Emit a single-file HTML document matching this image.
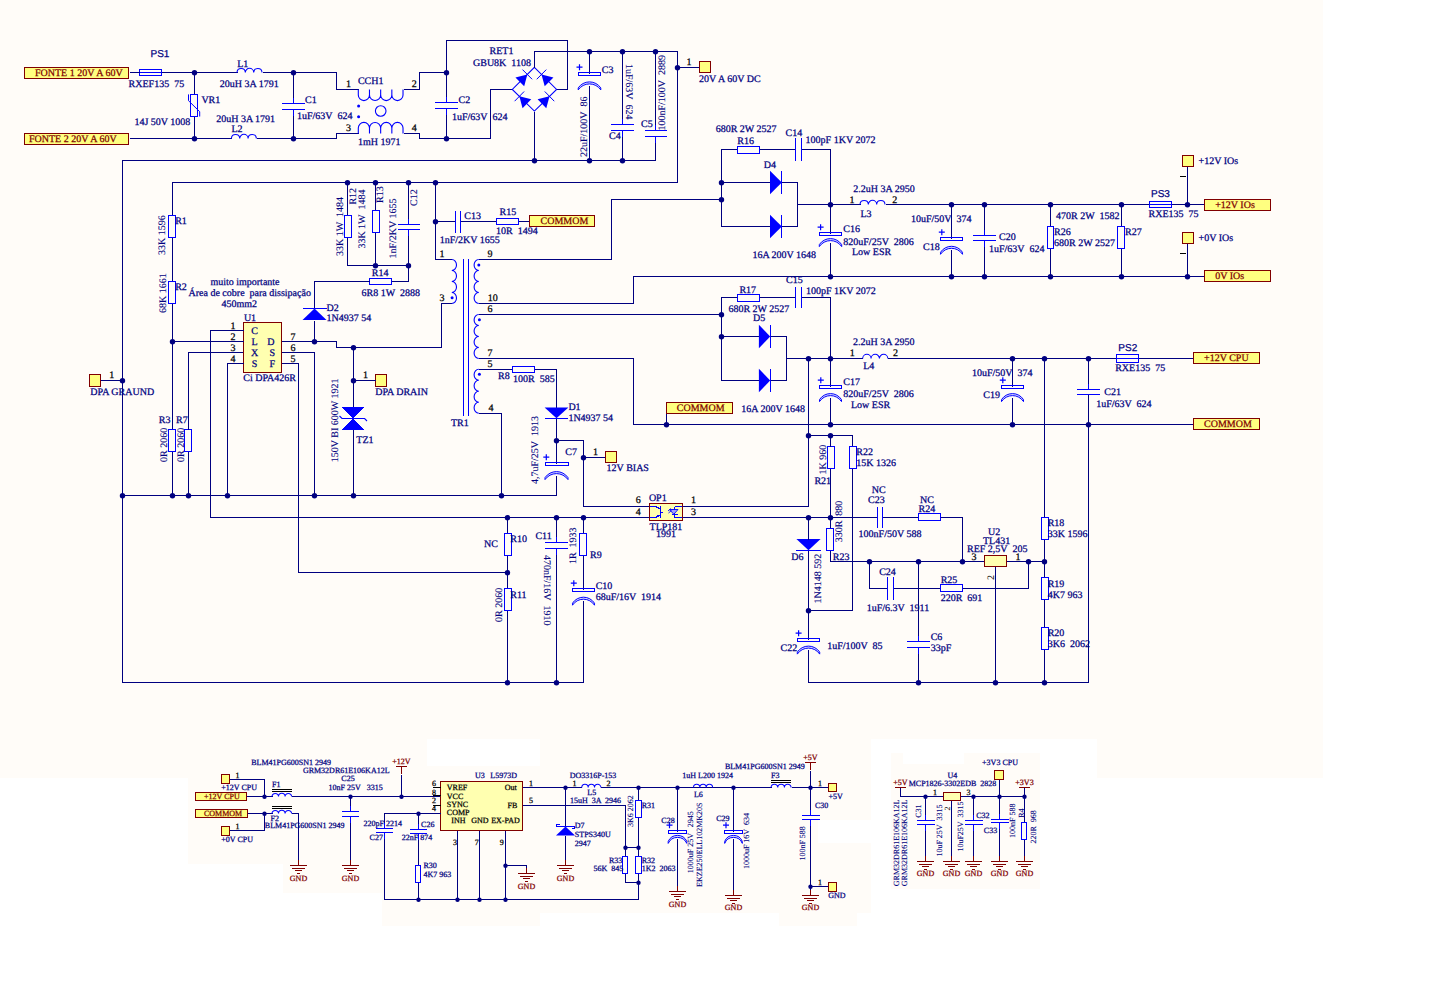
<!DOCTYPE html>
<html><head><meta charset="utf-8"><style>
html,body{margin:0;padding:0;background:#FFFFFF;}
body{width:1434px;height:1007px;overflow:hidden;}
svg{display:block;}
</style></head><body>
<svg width="1434" height="1007" viewBox="0 0 1434 1007" shape-rendering="crispEdges" text-rendering="geometricPrecision">
<rect x="0" y="0" width="1323" height="739" fill="#FFFCF8"/>
<rect x="1097" y="739" width="226" height="39" fill="#FFFCF8"/>
<rect x="0" y="739" width="188" height="39" fill="#FFFCF8"/>
<rect x="188" y="739" width="239" height="125" fill="#FFFCF8"/>
<rect x="427" y="766" width="444" height="147" fill="#FFFCF8"/>
<rect x="540" y="739" width="331" height="27" fill="#FFFCF8"/>
<rect x="283" y="864" width="99" height="29" fill="#FFFCF8"/>
<rect x="382" y="864" width="158" height="62" fill="#FFFCF8"/>
<rect x="891" y="753" width="149" height="136" fill="#FFFCF8"/>
<rect x="903" y="753" width="61" height="11" fill="#FFFFFF"/>
<rect x="427" y="742" width="113" height="24" fill="#FFFFFF"/>
<rect x="818" y="820" width="53" height="23" fill="#FFFFFF"/>
<rect x="779" y="913" width="78" height="13" fill="#FFFCF8"/>
<rect x="24.5" y="67.5" width="104" height="11" fill="#FFFF80" stroke="#800000" stroke-width="1"/>
<text x="35" y="76.35" font-size="10" fill="#800000" stroke="#800000" stroke-width="0.25" text-anchor="start" font-family='"Liberation Serif", serif' xml:space="preserve">FONTE 1 20V A 60V</text>
<rect x="24.5" y="133.5" width="104" height="11" fill="#FFFF80" stroke="#800000" stroke-width="1"/>
<text x="29" y="142.4" font-size="10" fill="#800000" stroke="#800000" stroke-width="0.25" text-anchor="start" font-family='"Liberation Serif", serif' xml:space="preserve">FONTE 2 20V A 60V</text>
<text x="150.5" y="57" font-size="10" fill="#000080" stroke="#000080" stroke-width="0.25" text-anchor="start" font-family='"Liberation Sans", sans-serif' xml:space="preserve">PS1</text>
<rect x="139.5" y="69.2" width="22" height="6.6" stroke="#0000FF" fill="none"/>
<line x1="139.5" y1="72.5" x2="161.5" y2="72.5" stroke="#0000FF"/>
<text x="128.6" y="86.7" font-size="10" fill="#000080" stroke="#000080" stroke-width="0.25" text-anchor="start" font-family='"Liberation Serif", serif' xml:space="preserve">RXEF135  75</text>
<polyline points="129.5,72.5 139.5,72.5" stroke="#000080" stroke-width="1" fill="none"/>
<polyline points="161.5,72.5 237.5,72.5" stroke="#000080" stroke-width="1" fill="none"/>
<polyline points="262.5,72.5 336.5,72.5 336.5,89.5 358.5,89.5" stroke="#000080" stroke-width="1" fill="none"/>
<polyline points="129.5,138.5 231.5,138.5" stroke="#000080" stroke-width="1" fill="none"/>
<polyline points="256.5,138.5 336.5,138.5 336.5,133.5 358.5,133.5" stroke="#000080" stroke-width="1" fill="none"/>
<polyline points="194.5,72.5 194.5,94.5" stroke="#000080" stroke-width="1" fill="none"/>
<polyline points="194.5,116.5 194.5,138.5" stroke="#000080" stroke-width="1" fill="none"/>
<rect x="190.5" y="94.5" width="7" height="22" stroke="#0000FF" fill="none"/>
<path d="M188.5,94.4 V100.7 L199.7,111.7 V116.5" stroke="#0000FF" fill="none" shape-rendering="geometricPrecision"/>
<text x="201.4" y="102.7" font-size="10" fill="#000080" stroke="#000080" stroke-width="0.25" text-anchor="start" font-family='"Liberation Serif", serif' xml:space="preserve">VR1</text>
<text x="134.4" y="124.5" font-size="10" fill="#000080" stroke="#000080" stroke-width="0.25" text-anchor="start" font-family='"Liberation Serif", serif' xml:space="preserve">14J 50V 1008</text>
<circle cx="194.5" cy="72.7" r="2.7" fill="#000080" shape-rendering="geometricPrecision"/>
<circle cx="194.5" cy="138.7" r="2.7" fill="#000080" shape-rendering="geometricPrecision"/>
<path d="M237,72.5 A4.17,4.17 0 0 1 245.33,72.5 A4.17,4.17 0 0 1 253.67,72.5 A4.17,4.17 0 0 1 262,72.5" stroke="#0000FF" stroke-width="1.05" fill="none" shape-rendering="geometricPrecision"/>
<text x="237.2" y="66.7" font-size="10" fill="#000080" stroke="#000080" stroke-width="0.25" text-anchor="start" font-family='"Liberation Serif", serif' xml:space="preserve">L1</text>
<text x="219.8" y="86.6" font-size="10" fill="#000080" stroke="#000080" stroke-width="0.25" text-anchor="start" font-family='"Liberation Serif", serif' xml:space="preserve">20uH 3A 1791</text>
<path d="M231.4,138.5 A4.17,4.17 0 0 1 239.73,138.5 A4.17,4.17 0 0 1 248.07,138.5 A4.17,4.17 0 0 1 256.4,138.5" stroke="#0000FF" stroke-width="1.05" fill="none" shape-rendering="geometricPrecision"/>
<text x="231.4" y="132.4" font-size="10" fill="#000080" stroke="#000080" stroke-width="0.25" text-anchor="start" font-family='"Liberation Serif", serif' xml:space="preserve">L2</text>
<text x="216.2" y="121.7" font-size="10" fill="#000080" stroke="#000080" stroke-width="0.25" text-anchor="start" font-family='"Liberation Serif", serif' xml:space="preserve">20uH 3A 1791</text>
<polyline points="293.5,72.5 293.5,103.5" stroke="#000080" stroke-width="1" fill="none"/>
<polyline points="293.5,109.5 293.5,138.5" stroke="#000080" stroke-width="1" fill="none"/>
<line x1="282" y1="103.5" x2="305" y2="103.5" stroke="#0000FF" stroke-width="1.4"/>
<line x1="282" y1="109.5" x2="305" y2="109.5" stroke="#0000FF" stroke-width="1.4"/>
<line x1="293.5" y1="97.5" x2="293.5" y2="103.5" stroke="#0000FF"/>
<line x1="293.5" y1="109.5" x2="293.5" y2="115.5" stroke="#0000FF"/>
<text x="305" y="103" font-size="10" fill="#000080" stroke="#000080" stroke-width="0.25" text-anchor="start" font-family='"Liberation Serif", serif' xml:space="preserve">C1</text>
<text x="297" y="119.3" font-size="10" fill="#000080" stroke="#000080" stroke-width="0.25" text-anchor="start" font-family='"Liberation Serif", serif' xml:space="preserve">1uF/63V  624</text>
<circle cx="293.5" cy="72.7" r="2.7" fill="#000080" shape-rendering="geometricPrecision"/>
<circle cx="293.5" cy="138.7" r="2.7" fill="#000080" shape-rendering="geometricPrecision"/>
<path d="M358.30,89.5 V95 A5.59,5.59 0 0 0 369.48,95 V89.5 M369.48,89.5 V95 A5.59,5.59 0 0 0 380.66,95 V89.5 M380.66,89.5 V95 A5.59,5.59 0 0 0 391.84,95 V89.5 M391.84,89.5 V95 A5.59,5.59 0 0 0 403.02,95 V89.5 M358.30,133.5 V128 A5.59,5.59 0 0 1 369.48,128 V133.5 M369.48,133.5 V128 A5.59,5.59 0 0 1 380.66,128 V133.5 M380.66,133.5 V128 A5.59,5.59 0 0 1 391.84,128 V133.5 M391.84,133.5 V128 A5.59,5.59 0 0 1 403.02,128 V133.5 " stroke="#0000FF" stroke-width="1.1" fill="none" shape-rendering="geometricPrecision"/>
<circle cx="358.6" cy="106" r="1.5" fill="#0000FF" shape-rendering="geometricPrecision"/>
<circle cx="358.6" cy="116.7" r="1.5" fill="#0000FF" shape-rendering="geometricPrecision"/>
<circle cx="380.7" cy="111" r="5.3" stroke="#0000FF" stroke-width="1.1" fill="none" shape-rendering="geometricPrecision"/>
<text x="357.9" y="83.7" font-size="10" fill="#000080" stroke="#000080" stroke-width="0.25" text-anchor="start" font-family='"Liberation Serif", serif' xml:space="preserve">CCH1</text>
<text x="348.5" y="86.6" font-size="10" fill="#000000" stroke="#000000" stroke-width="0.25" text-anchor="middle" font-family='"Liberation Serif", serif' xml:space="preserve">1</text>
<text x="414.2" y="86.6" font-size="10" fill="#000000" stroke="#000000" stroke-width="0.25" text-anchor="middle" font-family='"Liberation Serif", serif' xml:space="preserve">2</text>
<text x="348.5" y="130.6" font-size="10" fill="#000000" stroke="#000000" stroke-width="0.25" text-anchor="middle" font-family='"Liberation Serif", serif' xml:space="preserve">3</text>
<text x="414.2" y="130.6" font-size="10" fill="#000000" stroke="#000000" stroke-width="0.25" text-anchor="middle" font-family='"Liberation Serif", serif' xml:space="preserve">4</text>
<text x="357.9" y="144.5" font-size="10" fill="#000080" stroke="#000080" stroke-width="0.25" text-anchor="start" font-family='"Liberation Serif", serif' xml:space="preserve">1mH 1971</text>
<polyline points="403.5,89.5 419.5,89.5 419.5,72.5 446.5,72.5" stroke="#000080" stroke-width="1" fill="none"/>
<polyline points="403.5,133.5 419.5,133.5 419.5,138.5 446.5,138.5" stroke="#000080" stroke-width="1" fill="none"/>
<polyline points="446.5,72.5 446.5,102.5" stroke="#000080" stroke-width="1" fill="none"/>
<polyline points="446.5,108.5 446.5,138.5" stroke="#000080" stroke-width="1" fill="none"/>
<line x1="435" y1="102.5" x2="458" y2="102.5" stroke="#0000FF" stroke-width="1.4"/>
<line x1="435" y1="108.5" x2="458" y2="108.5" stroke="#0000FF" stroke-width="1.4"/>
<line x1="446.5" y1="96.5" x2="446.5" y2="102.5" stroke="#0000FF"/>
<line x1="446.5" y1="108.5" x2="446.5" y2="114.5" stroke="#0000FF"/>
<text x="458.6" y="103" font-size="10" fill="#000080" stroke="#000080" stroke-width="0.25" text-anchor="start" font-family='"Liberation Serif", serif' xml:space="preserve">C2</text>
<text x="452" y="120" font-size="10" fill="#000080" stroke="#000080" stroke-width="0.25" text-anchor="start" font-family='"Liberation Serif", serif' xml:space="preserve">1uF/63V  624</text>
<circle cx="446.5" cy="72.7" r="2.7" fill="#000080" shape-rendering="geometricPrecision"/>
<circle cx="446.5" cy="138.7" r="2.7" fill="#000080" shape-rendering="geometricPrecision"/>
<polyline points="446.5,72.5 446.5,40.5 567.5,40.5 567.5,89.5 556.5,89.5" stroke="#000080" stroke-width="1" fill="none"/>
<polyline points="512.5,89.5 490.5,89.5 490.5,138.5 446.5,138.5" stroke="#000080" stroke-width="1" fill="none"/>
<polygon points="534.4,67.4 556.6,89.4 534.4,111.1 512.3,89.4" stroke="#0000FF" stroke-width="1.1" fill="none" shape-rendering="geometricPrecision"/>
<polygon points="524.19,86.31 515.44,77.53 527.33,74.44" fill="#0000FF" shape-rendering="geometricPrecision"/>
<line x1="532.13" y1="79.26" x2="522.53" y2="69.62" stroke="#0000FF" shape-rendering="geometricPrecision"/>
<polygon points="553.42,77.52 544.69,86.32 541.50,74.44" fill="#0000FF" shape-rendering="geometricPrecision"/>
<line x1="546.29" y1="69.61" x2="536.72" y2="79.27" stroke="#0000FF" shape-rendering="geometricPrecision"/>
<polygon points="531.23,99.30 522.54,108.15 519.37,96.34" fill="#0000FF" shape-rendering="geometricPrecision"/>
<line x1="524.14" y1="91.49" x2="514.61" y2="101.20" stroke="#0000FF" shape-rendering="geometricPrecision"/>
<polygon points="546.28,108.16 537.61,99.29 549.50,96.34" fill="#0000FF" shape-rendering="geometricPrecision"/>
<line x1="554.25" y1="101.21" x2="544.74" y2="91.48" stroke="#0000FF" shape-rendering="geometricPrecision"/>
<text x="489.5" y="54" font-size="10" fill="#000080" stroke="#000080" stroke-width="0.25" text-anchor="start" font-family='"Liberation Serif", serif' xml:space="preserve">RET1</text>
<text x="473" y="66" font-size="10" fill="#000080" stroke="#000080" stroke-width="0.25" text-anchor="start" font-family='"Liberation Serif", serif' xml:space="preserve">GBU8K  1108</text>
<polyline points="534.5,67.5 534.5,51.5 677.5,51.5 677.5,182.5" stroke="#000080" stroke-width="1" fill="none"/>
<polyline points="534.5,111.5 534.5,160.5" stroke="#000080" stroke-width="1" fill="none"/>
<polyline points="122.5,682.5 122.5,160.5 655.5,160.5 655.5,136.5" stroke="#000080" stroke-width="1" fill="none"/>
<circle cx="534.5" cy="160.7" r="2.7" fill="#000080" shape-rendering="geometricPrecision"/>
<circle cx="589.5" cy="160.7" r="2.7" fill="#000080" shape-rendering="geometricPrecision"/>
<circle cx="622.5" cy="160.7" r="2.7" fill="#000080" shape-rendering="geometricPrecision"/>
<circle cx="589.5" cy="51.7" r="2.7" fill="#000080" shape-rendering="geometricPrecision"/>
<circle cx="622.5" cy="51.7" r="2.7" fill="#000080" shape-rendering="geometricPrecision"/>
<circle cx="655.5" cy="51.7" r="2.7" fill="#000080" shape-rendering="geometricPrecision"/>
<circle cx="677.5" cy="67.7" r="2.7" fill="#000080" shape-rendering="geometricPrecision"/>
<polyline points="589.5,51.5 589.5,73.5" stroke="#000080" stroke-width="1" fill="none"/>
<polyline points="589.5,85.5 589.5,160.5" stroke="#000080" stroke-width="1" fill="none"/>
<rect x="578.2" y="72.5" width="22.6" height="3" stroke="#0000FF" fill="none"/>
<path d="M578.2,87.9 A13.64,13.64 0 0 1 600.8,87.9 L600.8,89.9 A13.64,13.64 0 0 0 578.2,89.9 Z" stroke="#0000FF" stroke-width="1" fill="#D8D8FF" shape-rendering="geometricPrecision"/>
<path d="M576.5,67.2 h6 M579.5,64.2 v6" stroke="#0000FF" stroke-width="1.2" shape-rendering="geometricPrecision"/>
<text x="601.8" y="72.8" font-size="10" fill="#000080" stroke="#000080" stroke-width="0.25" text-anchor="start" font-family='"Liberation Serif", serif' xml:space="preserve">C3</text>
<text transform="translate(587,157) rotate(-90)" font-size="10" fill="#000080" stroke="#000080" stroke-width="0.1" font-family='"Liberation Serif", serif' xml:space="preserve">22uF/100V  86</text>
<polyline points="622.5,51.5 622.5,124.5" stroke="#000080" stroke-width="1" fill="none"/>
<polyline points="622.5,130.5 622.5,160.5" stroke="#000080" stroke-width="1" fill="none"/>
<line x1="611" y1="124.5" x2="634" y2="124.5" stroke="#0000FF" stroke-width="1.4"/>
<line x1="611" y1="130.5" x2="634" y2="130.5" stroke="#0000FF" stroke-width="1.4"/>
<line x1="622.5" y1="118.5" x2="622.5" y2="124.5" stroke="#0000FF"/>
<line x1="622.5" y1="130.5" x2="622.5" y2="136.5" stroke="#0000FF"/>
<text x="609" y="139.3" font-size="10" fill="#000080" stroke="#000080" stroke-width="0.25" text-anchor="start" font-family='"Liberation Serif", serif' xml:space="preserve">C4</text>
<text transform="translate(625.7,64) rotate(90)" font-size="10" fill="#000080" stroke="#000080" stroke-width="0.1" font-family='"Liberation Serif", serif' xml:space="preserve">1uF/63V  624</text>
<polyline points="655.5,51.5 655.5,130.5" stroke="#000080" stroke-width="1" fill="none"/>
<line x1="644.5" y1="130.5" x2="666.5" y2="130.5" stroke="#0000FF" stroke-width="1.4"/>
<line x1="644.5" y1="136.5" x2="666.5" y2="136.5" stroke="#0000FF" stroke-width="1.4"/>
<line x1="655.5" y1="124.5" x2="655.5" y2="130.5" stroke="#0000FF"/>
<line x1="655.5" y1="136.5" x2="655.5" y2="142.5" stroke="#0000FF"/>
<text x="641" y="127.3" font-size="10" fill="#000080" stroke="#000080" stroke-width="0.25" text-anchor="start" font-family='"Liberation Serif", serif' xml:space="preserve">C5</text>
<text transform="translate(665.3,130.5) rotate(-90)" font-size="10" fill="#000080" stroke="#000080" stroke-width="0.1" font-family='"Liberation Serif", serif' xml:space="preserve">100nF/100V  2889</text>
<polyline points="677.5,67.5 699.5,67.5" stroke="#000080" stroke-width="1" fill="none"/>
<rect x="699.5" y="61.5" width="11" height="11" fill="#FFFF80" stroke="#800000" stroke-width="1"/>
<text x="688.9" y="64.5" font-size="10" fill="#000000" stroke="#000000" stroke-width="0.25" text-anchor="middle" font-family='"Liberation Serif", serif' xml:space="preserve">1</text>
<text x="699" y="81.8" font-size="10" fill="#000080" stroke="#000080" stroke-width="0.25" text-anchor="start" font-family='"Liberation Serif", serif' xml:space="preserve">20V A 60V DC</text>
<polyline points="172.5,215.5 172.5,182.5 677.5,182.5" stroke="#000080" stroke-width="1" fill="none"/>
<circle cx="347.5" cy="182.7" r="2.7" fill="#000080" shape-rendering="geometricPrecision"/>
<circle cx="375.5" cy="182.7" r="2.7" fill="#000080" shape-rendering="geometricPrecision"/>
<circle cx="408.5" cy="182.7" r="2.7" fill="#000080" shape-rendering="geometricPrecision"/>
<circle cx="435.5" cy="182.7" r="2.7" fill="#000080" shape-rendering="geometricPrecision"/>
<polyline points="347.5,182.5 347.5,215.5" stroke="#000080" stroke-width="1" fill="none"/>
<polyline points="347.5,237.5 347.5,265.5 408.5,265.5" stroke="#000080" stroke-width="1" fill="none"/>
<rect x="344.5" y="215.5" width="7" height="22" stroke="#0000FF" fill="none"/>
<polyline points="375.5,182.5 375.5,210.5" stroke="#000080" stroke-width="1" fill="none"/>
<polyline points="375.5,232.5 375.5,265.5" stroke="#000080" stroke-width="1" fill="none"/>
<rect x="372.5" y="210.5" width="7" height="22" stroke="#0000FF" fill="none"/>
<polyline points="408.5,182.5 408.5,224.5" stroke="#000080" stroke-width="1" fill="none"/>
<polyline points="408.5,229.5 408.5,281.5 391.5,281.5" stroke="#000080" stroke-width="1" fill="none"/>
<line x1="397.5" y1="224.5" x2="419.5" y2="224.5" stroke="#0000FF" stroke-width="1.4"/>
<line x1="397.5" y1="229.5" x2="419.5" y2="229.5" stroke="#0000FF" stroke-width="1.4"/>
<line x1="408.5" y1="218.5" x2="408.5" y2="224.5" stroke="#0000FF"/>
<line x1="408.5" y1="229.5" x2="408.5" y2="235.5" stroke="#0000FF"/>
<circle cx="375.5" cy="265.7" r="2.7" fill="#000080" shape-rendering="geometricPrecision"/>
<circle cx="408.5" cy="265.7" r="2.7" fill="#000080" shape-rendering="geometricPrecision"/>
<text transform="translate(356.3,204.6) rotate(-90)" font-size="10" fill="#000080" stroke="#000080" stroke-width="0.1" font-family='"Liberation Serif", serif' xml:space="preserve">R12</text>
<text transform="translate(343.3,256) rotate(-90)" font-size="10" fill="#000080" stroke="#000080" stroke-width="0.1" font-family='"Liberation Serif", serif' xml:space="preserve">33K 1W  1484</text>
<text transform="translate(383.3,203) rotate(-90)" font-size="10" fill="#000080" stroke="#000080" stroke-width="0.1" font-family='"Liberation Serif", serif' xml:space="preserve">R13</text>
<text transform="translate(365.3,248.6) rotate(-90)" font-size="10" fill="#000080" stroke="#000080" stroke-width="0.1" font-family='"Liberation Serif", serif' xml:space="preserve">33K 1W  1484</text>
<text transform="translate(417.3,206) rotate(-90)" font-size="10" fill="#000080" stroke="#000080" stroke-width="0.1" font-family='"Liberation Serif", serif' xml:space="preserve">C12</text>
<text transform="translate(396.1,258.6) rotate(-90)" font-size="10" fill="#000080" stroke="#000080" stroke-width="0.1" font-family='"Liberation Serif", serif' xml:space="preserve">1nF/2KV 1655</text>
<rect x="369.5" y="278.5" width="22" height="6" stroke="#0000FF" fill="none"/>
<text x="371.8" y="276.1" font-size="10" fill="#000080" stroke="#000080" stroke-width="0.25" text-anchor="start" font-family='"Liberation Serif", serif' xml:space="preserve">R14</text>
<text x="361.5" y="295.7" font-size="10" fill="#000080" stroke="#000080" stroke-width="0.25" text-anchor="start" font-family='"Liberation Serif", serif' xml:space="preserve">6R8 1W  2888</text>
<polyline points="369.5,281.5 314.5,281.5 314.5,308.5" stroke="#000080" stroke-width="1" fill="none"/>
<polyline points="314.5,320.5 314.5,341.5" stroke="#000080" stroke-width="1" fill="none"/>
<polygon points="302.5,320.1 326.5,320.1 314.5,308.6" fill="#0000FF" shape-rendering="geometricPrecision"/>
<line x1="302.5" y1="308.5" x2="326.5" y2="308.5" stroke="#0000FF" stroke-width="1"/>
<text x="326.6" y="311" font-size="10" fill="#000080" stroke="#000080" stroke-width="0.25" text-anchor="start" font-family='"Liberation Serif", serif' xml:space="preserve">D2</text>
<text x="326.6" y="321.3" font-size="10" fill="#000080" stroke="#000080" stroke-width="0.25" text-anchor="start" font-family='"Liberation Serif", serif' xml:space="preserve">1N4937 54</text>
<polyline points="435.5,182.5 435.5,259.5 451.5,259.5" stroke="#000080" stroke-width="1" fill="none"/>
<circle cx="435.5" cy="221.7" r="2.7" fill="#000080" shape-rendering="geometricPrecision"/>
<polyline points="435.5,221.5 455.5,221.5" stroke="#000080" stroke-width="1" fill="none"/>
<polyline points="460.5,221.5 496.5,221.5" stroke="#000080" stroke-width="1" fill="none"/>
<polyline points="518.5,221.5 529.5,221.5" stroke="#000080" stroke-width="1" fill="none"/>
<line x1="455.5" y1="210.5" x2="455.5" y2="232.5" stroke="#0000FF" stroke-width="1.4"/>
<line x1="460.5" y1="210.5" x2="460.5" y2="232.5" stroke="#0000FF" stroke-width="1.4"/>
<rect x="496.5" y="218.5" width="22" height="6" stroke="#0000FF" fill="none"/>
<text x="464.3" y="218.7" font-size="10" fill="#000080" stroke="#000080" stroke-width="0.25" text-anchor="start" font-family='"Liberation Serif", serif' xml:space="preserve">C13</text>
<text x="439.7" y="243" font-size="10" fill="#000080" stroke="#000080" stroke-width="0.25" text-anchor="start" font-family='"Liberation Serif", serif' xml:space="preserve">1nF/2KV 1655</text>
<text x="499.5" y="215.3" font-size="10" fill="#000080" stroke="#000080" stroke-width="0.25" text-anchor="start" font-family='"Liberation Serif", serif' xml:space="preserve">R15</text>
<text x="496" y="233.8" font-size="10" fill="#000080" stroke="#000080" stroke-width="0.25" text-anchor="start" font-family='"Liberation Serif", serif' xml:space="preserve">10R  1494</text>
<rect x="529.5" y="215.5" width="65" height="11" fill="#FFFF80" stroke="#800000" stroke-width="1"/>
<text x="540.5" y="224.35" font-size="10" fill="#800000" stroke="#800000" stroke-width="0.25" text-anchor="start" font-family='"Liberation Serif", serif' xml:space="preserve">COMMOM</text>
<polyline points="611.5,259.5 611.5,199.5 721.5,199.5" stroke="#000080" stroke-width="1" fill="none"/>
<polyline points="478.5,259.5 611.5,259.5" stroke="#000080" stroke-width="1" fill="none"/>
<polyline points="737.5,149.5 721.5,149.5 721.5,226.5 770.5,226.5" stroke="#000080" stroke-width="1" fill="none"/>
<circle cx="721.5" cy="182.7" r="2.7" fill="#000080" shape-rendering="geometricPrecision"/>
<circle cx="721.5" cy="199.7" r="2.7" fill="#000080" shape-rendering="geometricPrecision"/>
<rect x="737.5" y="146.5" width="22" height="7" stroke="#0000FF" fill="none"/>
<text x="715.7" y="131.8" font-size="10" fill="#000080" stroke="#000080" stroke-width="0.25" text-anchor="start" font-family='"Liberation Serif", serif' xml:space="preserve">680R 2W 2527</text>
<text x="737.3" y="143.8" font-size="10" fill="#000080" stroke="#000080" stroke-width="0.25" text-anchor="start" font-family='"Liberation Serif", serif' xml:space="preserve">R16</text>
<polyline points="759.5,149.5 795.5,149.5" stroke="#000080" stroke-width="1" fill="none"/>
<line x1="795.5" y1="138.2" x2="795.5" y2="160.8" stroke="#0000FF" stroke-width="1.4"/>
<line x1="801.5" y1="138.2" x2="801.5" y2="160.8" stroke="#0000FF" stroke-width="1.4"/>
<polyline points="801.5,149.5 830.5,149.5 830.5,233.5" stroke="#000080" stroke-width="1" fill="none"/>
<text x="785.5" y="135.8" font-size="10" fill="#000080" stroke="#000080" stroke-width="0.25" text-anchor="start" font-family='"Liberation Serif", serif' xml:space="preserve">C14</text>
<text x="805.6" y="142.8" font-size="10" fill="#000080" stroke="#000080" stroke-width="0.25" text-anchor="start" font-family='"Liberation Serif", serif' xml:space="preserve">100pF 1KV 2072</text>
<polyline points="721.5,182.5 770.5,182.5" stroke="#000080" stroke-width="1" fill="none"/>
<polygon points="770,170.8 770,194.2 781.8,182.5" fill="#0000FF" shape-rendering="geometricPrecision"/>
<line x1="781.5" y1="170.8" x2="781.5" y2="194.2" stroke="#0000FF" stroke-width="1"/>
<polygon points="770,214.8 770,238.2 781.8,226.5" fill="#0000FF" shape-rendering="geometricPrecision"/>
<line x1="781.5" y1="214.8" x2="781.5" y2="238.2" stroke="#0000FF" stroke-width="1"/>
<polyline points="781.5,182.5 797.5,182.5 797.5,226.5 781.5,226.5" stroke="#000080" stroke-width="1" fill="none"/>
<text x="763.7" y="167.7" font-size="10" fill="#000080" stroke="#000080" stroke-width="0.25" text-anchor="start" font-family='"Liberation Serif", serif' xml:space="preserve">D4</text>
<text x="752.4" y="258" font-size="10" fill="#000080" stroke="#000080" stroke-width="0.25" text-anchor="start" font-family='"Liberation Serif", serif' xml:space="preserve">16A 200V 1648</text>
<polyline points="797.5,204.5 860.5,204.5" stroke="#000080" stroke-width="1" fill="none"/>
<path d="M860,204.5 A4.17,4.17 0 0 1 868.33,204.5 A4.17,4.17 0 0 1 876.67,204.5 A4.17,4.17 0 0 1 885,204.5" stroke="#0000FF" stroke-width="1.05" fill="none" shape-rendering="geometricPrecision"/>
<polyline points="885.5,204.5 1149.5,204.5" stroke="#000080" stroke-width="1" fill="none"/>
<polyline points="1171.5,204.5 1204.5,204.5" stroke="#000080" stroke-width="1" fill="none"/>
<text x="852" y="203" font-size="10" fill="#000000" stroke="#000000" stroke-width="0.25" text-anchor="middle" font-family='"Liberation Serif", serif' xml:space="preserve">1</text>
<text x="894.7" y="203" font-size="10" fill="#000000" stroke="#000000" stroke-width="0.25" text-anchor="middle" font-family='"Liberation Serif", serif' xml:space="preserve">2</text>
<text x="860.5" y="217" font-size="10" fill="#000080" stroke="#000080" stroke-width="0.25" text-anchor="start" font-family='"Liberation Serif", serif' xml:space="preserve">L3</text>
<text x="853.3" y="191.5" font-size="10" fill="#000080" stroke="#000080" stroke-width="0.25" text-anchor="start" font-family='"Liberation Serif", serif' xml:space="preserve">2.2uH 3A 2950</text>
<circle cx="830.5" cy="204.7" r="2.7" fill="#000080" shape-rendering="geometricPrecision"/>
<rect x="819.3" y="232.5" width="22.4" height="3" stroke="#0000FF" fill="none"/>
<path d="M819.3,244.6 A13.45,13.45 0 0 1 841.7,244.6 L841.7,246.6 A13.45,13.45 0 0 0 819.3,246.6 Z" stroke="#0000FF" stroke-width="1" fill="#D8D8FF" shape-rendering="geometricPrecision"/>
<path d="M817.6,227.2 h6 M820.6,224.2 v6" stroke="#0000FF" stroke-width="1.2" shape-rendering="geometricPrecision"/>
<polyline points="830.5,242.5 830.5,276.5" stroke="#000080" stroke-width="1" fill="none"/>
<text x="843.3" y="231.7" font-size="10" fill="#000080" stroke="#000080" stroke-width="0.25" text-anchor="start" font-family='"Liberation Serif", serif' xml:space="preserve">C16</text>
<text x="843.3" y="245.3" font-size="10" fill="#000080" stroke="#000080" stroke-width="0.25" text-anchor="start" font-family='"Liberation Serif", serif' xml:space="preserve">820uF/25V  2806</text>
<text x="852" y="255.3" font-size="10" fill="#000080" stroke="#000080" stroke-width="0.25" text-anchor="start" font-family='"Liberation Serif", serif' xml:space="preserve">Low ESR</text>
<polyline points="478.5,303.5 633.5,303.5 633.5,276.5 1204.5,276.5" stroke="#000080" stroke-width="1" fill="none"/>
<circle cx="830.5" cy="276.7" r="2.7" fill="#000080" shape-rendering="geometricPrecision"/>
<circle cx="951.5" cy="276.7" r="2.7" fill="#000080" shape-rendering="geometricPrecision"/>
<circle cx="984.5" cy="276.7" r="2.7" fill="#000080" shape-rendering="geometricPrecision"/>
<circle cx="1050.5" cy="276.7" r="2.7" fill="#000080" shape-rendering="geometricPrecision"/>
<circle cx="1121.5" cy="276.7" r="2.7" fill="#000080" shape-rendering="geometricPrecision"/>
<circle cx="1187.5" cy="276.7" r="2.7" fill="#000080" shape-rendering="geometricPrecision"/>
<circle cx="951.5" cy="204.7" r="2.7" fill="#000080" shape-rendering="geometricPrecision"/>
<circle cx="984.5" cy="204.7" r="2.7" fill="#000080" shape-rendering="geometricPrecision"/>
<circle cx="1050.5" cy="204.7" r="2.7" fill="#000080" shape-rendering="geometricPrecision"/>
<circle cx="1121.5" cy="204.7" r="2.7" fill="#000080" shape-rendering="geometricPrecision"/>
<circle cx="1187.5" cy="204.7" r="2.7" fill="#000080" shape-rendering="geometricPrecision"/>
<polyline points="951.5,204.5 951.5,238.5" stroke="#000080" stroke-width="1" fill="none"/>
<polyline points="951.5,249.5 951.5,276.5" stroke="#000080" stroke-width="1" fill="none"/>
<rect x="940.5" y="237.5" width="22" height="3" stroke="#0000FF" fill="none"/>
<path d="M940.5,252.3 A13.08,13.08 0 0 1 962.5,252.3 L962.5,254.3 A13.08,13.08 0 0 0 940.5,254.3 Z" stroke="#0000FF" stroke-width="1" fill="#D8D8FF" shape-rendering="geometricPrecision"/>
<path d="M938.8,232.2 h6 M941.8,229.2 v6" stroke="#0000FF" stroke-width="1.2" shape-rendering="geometricPrecision"/>
<text x="911" y="221.7" font-size="10" fill="#000080" stroke="#000080" stroke-width="0.25" text-anchor="start" font-family='"Liberation Serif", serif' xml:space="preserve">10uF/50V  374</text>
<text x="923" y="250.3" font-size="10" fill="#000080" stroke="#000080" stroke-width="0.25" text-anchor="start" font-family='"Liberation Serif", serif' xml:space="preserve">C18</text>
<polyline points="984.5,204.5 984.5,235.5" stroke="#000080" stroke-width="1" fill="none"/>
<polyline points="984.5,240.5 984.5,276.5" stroke="#000080" stroke-width="1" fill="none"/>
<line x1="973.2" y1="235.5" x2="995.8" y2="235.5" stroke="#0000FF" stroke-width="1.4"/>
<line x1="973.2" y1="240.5" x2="995.8" y2="240.5" stroke="#0000FF" stroke-width="1.4"/>
<line x1="984.5" y1="229.5" x2="984.5" y2="235.5" stroke="#0000FF"/>
<line x1="984.5" y1="240.5" x2="984.5" y2="246.5" stroke="#0000FF"/>
<text x="999" y="240.3" font-size="10" fill="#000080" stroke="#000080" stroke-width="0.25" text-anchor="start" font-family='"Liberation Serif", serif' xml:space="preserve">C20</text>
<text x="989" y="251.8" font-size="10" fill="#000080" stroke="#000080" stroke-width="0.25" text-anchor="start" font-family='"Liberation Serif", serif' xml:space="preserve">1uF/63V  624</text>
<polyline points="1050.5,204.5 1050.5,226.5" stroke="#000080" stroke-width="1" fill="none"/>
<polyline points="1050.5,248.5 1050.5,276.5" stroke="#000080" stroke-width="1" fill="none"/>
<rect x="1047.5" y="226.5" width="6" height="22" stroke="#0000FF" fill="none"/>
<text x="1056" y="219" font-size="10" fill="#000080" stroke="#000080" stroke-width="0.25" text-anchor="start" font-family='"Liberation Serif", serif' xml:space="preserve">470R 2W  1582</text>
<text x="1054" y="235.3" font-size="10" fill="#000080" stroke="#000080" stroke-width="0.25" text-anchor="start" font-family='"Liberation Serif", serif' xml:space="preserve">R26</text>
<text x="1054" y="246" font-size="10" fill="#000080" stroke="#000080" stroke-width="0.25" text-anchor="start" font-family='"Liberation Serif", serif' xml:space="preserve">680R 2W 2527</text>
<polyline points="1121.5,204.5 1121.5,226.5" stroke="#000080" stroke-width="1" fill="none"/>
<polyline points="1121.5,248.5 1121.5,276.5" stroke="#000080" stroke-width="1" fill="none"/>
<rect x="1117.5" y="226.5" width="7" height="22" stroke="#0000FF" fill="none"/>
<text x="1125" y="235.3" font-size="10" fill="#000080" stroke="#000080" stroke-width="0.25" text-anchor="start" font-family='"Liberation Serif", serif' xml:space="preserve">R27</text>
<rect x="1149.5" y="201.3" width="22" height="6.4" stroke="#0000FF" fill="none"/>
<line x1="1149.5" y1="204.5" x2="1171.5" y2="204.5" stroke="#0000FF"/>
<text x="1151" y="197.2" font-size="10" fill="#000080" stroke="#000080" stroke-width="0.25" text-anchor="start" font-family='"Liberation Sans", sans-serif' xml:space="preserve">PS3</text>
<text x="1148.5" y="216.8" font-size="10" fill="#000080" stroke="#000080" stroke-width="0.25" text-anchor="start" font-family='"Liberation Serif", serif' xml:space="preserve">RXE135  75</text>
<rect x="1182.5" y="155.5" width="11" height="11" fill="#FFFF80" stroke="#800000" stroke-width="1"/>
<text x="1198.6" y="163.8" font-size="10" fill="#000080" stroke="#000080" stroke-width="0.25" text-anchor="start" font-family='"Liberation Serif", serif' xml:space="preserve">+12V IOs</text>
<polyline points="1187.5,166.5 1187.5,204.5" stroke="#000080" stroke-width="1" fill="none"/>
<line x1="1180" y1="176.5" x2="1186" y2="176.5" stroke="#000" stroke-width="1"/>
<rect x="1182.5" y="232.5" width="11" height="11" fill="#FFFF80" stroke="#800000" stroke-width="1"/>
<text x="1198.6" y="241" font-size="10" fill="#000080" stroke="#000080" stroke-width="0.25" text-anchor="start" font-family='"Liberation Serif", serif' xml:space="preserve">+0V IOs</text>
<polyline points="1187.5,243.5 1187.5,276.5" stroke="#000080" stroke-width="1" fill="none"/>
<line x1="1180" y1="253.5" x2="1186" y2="253.5" stroke="#000" stroke-width="1"/>
<rect x="1204.5" y="199.5" width="66" height="11" fill="#FFFF80" stroke="#800000" stroke-width="1"/>
<text x="1215.2" y="208.05" font-size="10" fill="#800000" stroke="#800000" stroke-width="0.25" text-anchor="start" font-family='"Liberation Serif", serif' xml:space="preserve">+12V IOs</text>
<rect x="1204.5" y="270.5" width="66" height="11" fill="#FFFF80" stroke="#800000" stroke-width="1"/>
<text x="1215.2" y="279.4" font-size="10" fill="#800000" stroke="#800000" stroke-width="0.25" text-anchor="start" font-family='"Liberation Serif", serif' xml:space="preserve">0V IOs</text>
<rect x="168.5" y="215.5" width="7" height="22" stroke="#0000FF" fill="none"/>
<polyline points="172.5,237.5 172.5,281.5" stroke="#000080" stroke-width="1" fill="none"/>
<text x="175.2" y="224.3" font-size="10" fill="#000080" stroke="#000080" stroke-width="0.25" text-anchor="start" font-family='"Liberation Serif", serif' xml:space="preserve">R1</text>
<text transform="translate(165.3,255) rotate(-90)" font-size="10" fill="#000080" stroke="#000080" stroke-width="0.1" font-family='"Liberation Serif", serif' xml:space="preserve">33K 1596</text>
<rect x="168.5" y="281.5" width="7" height="22" stroke="#0000FF" fill="none"/>
<polyline points="172.5,303.5 172.5,429.5" stroke="#000080" stroke-width="1" fill="none"/>
<text x="175.2" y="289.8" font-size="10" fill="#000080" stroke="#000080" stroke-width="0.25" text-anchor="start" font-family='"Liberation Serif", serif' xml:space="preserve">R2</text>
<text transform="translate(165.9,313) rotate(-90)" font-size="10" fill="#000080" stroke="#000080" stroke-width="0.1" font-family='"Liberation Serif", serif' xml:space="preserve">68K 1661</text>
<circle cx="172.5" cy="341.7" r="2.7" fill="#000080" shape-rendering="geometricPrecision"/>
<rect x="168.5" y="429.5" width="7" height="22" stroke="#0000FF" fill="none"/>
<polyline points="172.5,451.5 172.5,495.5" stroke="#000080" stroke-width="1" fill="none"/>
<text x="158.8" y="423.3" font-size="10" fill="#000080" stroke="#000080" stroke-width="0.25" text-anchor="start" font-family='"Liberation Serif", serif' xml:space="preserve">R3</text>
<text transform="translate(167.3,462) rotate(-90)" font-size="10" fill="#000080" stroke="#000080" stroke-width="0.1" font-family='"Liberation Serif", serif' xml:space="preserve">0R 2060</text>
<rect x="184.5" y="429.5" width="7" height="22" stroke="#0000FF" fill="none"/>
<polyline points="243.5,352.5 188.5,352.5 188.5,429.5" stroke="#000080" stroke-width="1" fill="none"/>
<polyline points="188.5,451.5 188.5,495.5" stroke="#000080" stroke-width="1" fill="none"/>
<text x="176" y="423.3" font-size="10" fill="#000080" stroke="#000080" stroke-width="0.25" text-anchor="start" font-family='"Liberation Serif", serif' xml:space="preserve">R7</text>
<text transform="translate(183.5,462) rotate(-90)" font-size="10" fill="#000080" stroke="#000080" stroke-width="0.1" font-family='"Liberation Serif", serif' xml:space="preserve">0R 2060</text>
<text x="210.4" y="285.1" font-size="10" fill="#000080" stroke="#000080" stroke-width="0.25" text-anchor="start" font-family='"Liberation Serif", serif' xml:space="preserve">muito importante</text>
<text x="188.5" y="296.3" font-size="10" fill="#000080" stroke="#000080" stroke-width="0.25" text-anchor="start" font-family='"Liberation Serif", serif' xml:space="preserve">Área de cobre  para dissipação</text>
<text x="221.5" y="306.6" font-size="10" fill="#000080" stroke="#000080" stroke-width="0.25" text-anchor="start" font-family='"Liberation Serif", serif' xml:space="preserve">450mm2</text>
<rect x="243.5" y="322.5" width="38" height="50" fill="#FFFFB0" stroke="#800000" stroke-width="1.2"/>
<text x="243.9" y="320.9" font-size="10" fill="#000080" stroke="#000080" stroke-width="0.25" text-anchor="start" font-family='"Liberation Serif", serif' xml:space="preserve">U1</text>
<text x="243.3" y="381.1" font-size="10" fill="#000080" stroke="#000080" stroke-width="0.25" text-anchor="start" font-family='"Liberation Serif", serif' xml:space="preserve">Ci DPA426R</text>
<text x="254.6" y="334.2" font-size="10" fill="#000080" stroke="#000080" stroke-width="0.25" text-anchor="middle" font-family='"Liberation Serif", serif' xml:space="preserve">C</text>
<text x="254.6" y="345.3" font-size="10" fill="#000080" stroke="#000080" stroke-width="0.25" text-anchor="middle" font-family='"Liberation Serif", serif' xml:space="preserve">L</text>
<text x="254.6" y="356.1" font-size="10" fill="#000080" stroke="#000080" stroke-width="0.25" text-anchor="middle" font-family='"Liberation Serif", serif' xml:space="preserve">X</text>
<text x="254.6" y="367.2" font-size="10" fill="#000080" stroke="#000080" stroke-width="0.25" text-anchor="middle" font-family='"Liberation Serif", serif' xml:space="preserve">S</text>
<text x="270.9" y="345.3" font-size="10" fill="#000080" stroke="#000080" stroke-width="0.25" text-anchor="middle" font-family='"Liberation Serif", serif' xml:space="preserve">D</text>
<text x="272.2" y="356.1" font-size="10" fill="#000080" stroke="#000080" stroke-width="0.25" text-anchor="middle" font-family='"Liberation Serif", serif' xml:space="preserve">S</text>
<text x="272.2" y="367.2" font-size="10" fill="#000080" stroke="#000080" stroke-width="0.25" text-anchor="middle" font-family='"Liberation Serif", serif' xml:space="preserve">F</text>
<text x="232.9" y="329" font-size="10" fill="#000000" stroke="#000000" stroke-width="0.25" text-anchor="middle" font-family='"Liberation Serif", serif' xml:space="preserve">1</text>
<text x="232.9" y="340" font-size="10" fill="#000000" stroke="#000000" stroke-width="0.25" text-anchor="middle" font-family='"Liberation Serif", serif' xml:space="preserve">2</text>
<text x="232.9" y="351.2" font-size="10" fill="#000000" stroke="#000000" stroke-width="0.25" text-anchor="middle" font-family='"Liberation Serif", serif' xml:space="preserve">3</text>
<text x="232.9" y="361.7" font-size="10" fill="#000000" stroke="#000000" stroke-width="0.25" text-anchor="middle" font-family='"Liberation Serif", serif' xml:space="preserve">4</text>
<text x="292.9" y="340" font-size="10" fill="#000000" stroke="#000000" stroke-width="0.25" text-anchor="middle" font-family='"Liberation Serif", serif' xml:space="preserve">7</text>
<text x="292.9" y="351.2" font-size="10" fill="#000000" stroke="#000000" stroke-width="0.25" text-anchor="middle" font-family='"Liberation Serif", serif' xml:space="preserve">6</text>
<text x="292.9" y="361.7" font-size="10" fill="#000000" stroke="#000000" stroke-width="0.25" text-anchor="middle" font-family='"Liberation Serif", serif' xml:space="preserve">5</text>
<polyline points="172.5,341.5 243.5,341.5" stroke="#000080" stroke-width="1" fill="none"/>
<polyline points="243.5,330.5 210.5,330.5 210.5,517.5 649.5,517.5" stroke="#000080" stroke-width="1" fill="none"/>
<polyline points="243.5,363.5 227.5,363.5 227.5,495.5" stroke="#000080" stroke-width="1" fill="none"/>
<polyline points="281.5,341.5 336.5,341.5 336.5,347.5 441.5,347.5 441.5,303.5 451.5,303.5" stroke="#000080" stroke-width="1" fill="none"/>
<polyline points="281.5,352.5 314.5,352.5 314.5,495.5" stroke="#000080" stroke-width="1" fill="none"/>
<polyline points="281.5,363.5 298.5,363.5 298.5,572.5 507.5,572.5" stroke="#000080" stroke-width="1" fill="none"/>
<circle cx="314.5" cy="341.7" r="2.7" fill="#000080" shape-rendering="geometricPrecision"/>
<circle cx="353.5" cy="347.7" r="2.7" fill="#000080" shape-rendering="geometricPrecision"/>
<circle cx="353.5" cy="380.7" r="2.7" fill="#000080" shape-rendering="geometricPrecision"/>
<rect x="89.5" y="374.5" width="11" height="12" fill="#FFFF80" stroke="#800000" stroke-width="1"/>
<polyline points="100.5,380.5 122.5,380.5" stroke="#000080" stroke-width="1" fill="none"/>
<circle cx="122.5" cy="380.7" r="2.7" fill="#000080" shape-rendering="geometricPrecision"/>
<text x="111.8" y="377.5" font-size="10" fill="#000000" stroke="#000000" stroke-width="0.25" text-anchor="middle" font-family='"Liberation Serif", serif' xml:space="preserve">1</text>
<text x="90.3" y="394.9" font-size="10" fill="#000080" stroke="#000080" stroke-width="0.25" text-anchor="start" font-family='"Liberation Serif", serif' xml:space="preserve">DPA GRAUND</text>
<polyline points="353.5,347.5 353.5,407.5" stroke="#000080" stroke-width="1" fill="none"/>
<polyline points="353.5,429.5 353.5,495.5" stroke="#000080" stroke-width="1" fill="none"/>
<polygon points="342,407.4 364.6,407.4 353.4,418.5" fill="#0000FF"/>
<polygon points="342,429.8 364.6,429.8 353.4,418.5" fill="#0000FF"/>
<path d="M339.5,416 L342,418.5 H364.6 L367,421" stroke="#0000FF" stroke-width="1.1" fill="none" shape-rendering="geometricPrecision"/>
<text x="356.3" y="442.9" font-size="10" fill="#000080" stroke="#000080" stroke-width="0.25" text-anchor="start" font-family='"Liberation Serif", serif' xml:space="preserve">TZ1</text>
<text transform="translate(337.7,462.3) rotate(-90)" font-size="10" fill="#000080" stroke="#000080" stroke-width="0.1" font-family='"Liberation Serif", serif' xml:space="preserve">150V BI 600W 1921</text>
<rect x="375.5" y="374.5" width="11" height="12" fill="#FFFF80" stroke="#800000" stroke-width="1"/>
<polyline points="353.5,380.5 375.5,380.5" stroke="#000080" stroke-width="1" fill="none"/>
<text x="365.4" y="377.5" font-size="10" fill="#000000" stroke="#000000" stroke-width="0.25" text-anchor="middle" font-family='"Liberation Serif", serif' xml:space="preserve">1</text>
<text x="375.2" y="394.9" font-size="10" fill="#000080" stroke="#000080" stroke-width="0.25" text-anchor="start" font-family='"Liberation Serif", serif' xml:space="preserve">DPA DRAIN</text>
<polyline points="122.5,495.5 556.5,495.5 556.5,475.5" stroke="#000080" stroke-width="1" fill="none"/>
<circle cx="122.5" cy="495.7" r="2.7" fill="#000080" shape-rendering="geometricPrecision"/>
<circle cx="172.5" cy="495.7" r="2.7" fill="#000080" shape-rendering="geometricPrecision"/>
<circle cx="188.5" cy="495.7" r="2.7" fill="#000080" shape-rendering="geometricPrecision"/>
<circle cx="227.5" cy="495.7" r="2.7" fill="#000080" shape-rendering="geometricPrecision"/>
<circle cx="314.5" cy="495.7" r="2.7" fill="#000080" shape-rendering="geometricPrecision"/>
<circle cx="353.5" cy="495.7" r="2.7" fill="#000080" shape-rendering="geometricPrecision"/>
<circle cx="501.5" cy="495.7" r="2.7" fill="#000080" shape-rendering="geometricPrecision"/>
<path d="M451.8,259.50 A4.7,5.5 0 0 1 451.8,270.50 M451.8,270.50 A4.7,5.5 0 0 1 451.8,281.50 M451.8,281.50 A4.7,5.5 0 0 1 451.8,292.50 M451.8,292.50 A4.7,5.5 0 0 1 451.8,303.50 M478.8,259.50 A4.7,5.5 0 0 0 478.8,270.50 M478.8,270.50 A4.7,5.5 0 0 0 478.8,281.50 M478.8,281.50 A4.7,5.5 0 0 0 478.8,292.50 M478.8,292.50 A4.7,5.5 0 0 0 478.8,303.50 M478.8,314.50 A4.7,5.5 0 0 0 478.8,325.50 M478.8,325.50 A4.7,5.5 0 0 0 478.8,336.50 M478.8,336.50 A4.7,5.5 0 0 0 478.8,347.50 M478.8,347.50 A4.7,5.5 0 0 0 478.8,358.50 M478.8,369.30 A4.7,5.5 0 0 0 478.8,380.30 M478.8,380.30 A4.7,5.5 0 0 0 478.8,391.30 M478.8,391.30 A4.7,5.5 0 0 0 478.8,402.30 M478.8,402.30 A4.7,5.5 0 0 0 478.8,413.30 " stroke="#0000FF" stroke-width="1.1" fill="none" shape-rendering="geometricPrecision"/>
<line x1="463.5" y1="259" x2="463.5" y2="415.6" stroke="#0000FF" stroke-width="1.2"/>
<line x1="468.5" y1="259" x2="468.5" y2="415.6" stroke="#0000FF" stroke-width="1.2"/>
<circle cx="452.1" cy="297.8" r="1.5" fill="#0000FF" shape-rendering="geometricPrecision"/>
<circle cx="478.8" cy="265" r="1.5" fill="#0000FF" shape-rendering="geometricPrecision"/>
<circle cx="479.4" cy="319.7" r="1.5" fill="#0000FF" shape-rendering="geometricPrecision"/>
<circle cx="479.4" cy="374.3" r="1.5" fill="#0000FF" shape-rendering="geometricPrecision"/>
<text x="441.9" y="256.8" font-size="10" fill="#000000" stroke="#000000" stroke-width="0.25" text-anchor="middle" font-family='"Liberation Serif", serif' xml:space="preserve">1</text>
<text x="490" y="256.8" font-size="10" fill="#000000" stroke="#000000" stroke-width="0.25" text-anchor="middle" font-family='"Liberation Serif", serif' xml:space="preserve">9</text>
<text x="441.9" y="300.6" font-size="10" fill="#000000" stroke="#000000" stroke-width="0.25" text-anchor="middle" font-family='"Liberation Serif", serif' xml:space="preserve">3</text>
<text x="492.7" y="300.6" font-size="10" fill="#000000" stroke="#000000" stroke-width="0.25" text-anchor="middle" font-family='"Liberation Serif", serif' xml:space="preserve">10</text>
<text x="490" y="311.6" font-size="10" fill="#000000" stroke="#000000" stroke-width="0.25" text-anchor="middle" font-family='"Liberation Serif", serif' xml:space="preserve">6</text>
<text x="490" y="355.5" font-size="10" fill="#000000" stroke="#000000" stroke-width="0.25" text-anchor="middle" font-family='"Liberation Serif", serif' xml:space="preserve">7</text>
<text x="490" y="366.7" font-size="10" fill="#000000" stroke="#000000" stroke-width="0.25" text-anchor="middle" font-family='"Liberation Serif", serif' xml:space="preserve">5</text>
<text x="491" y="411.2" font-size="10" fill="#000000" stroke="#000000" stroke-width="0.25" text-anchor="middle" font-family='"Liberation Serif", serif' xml:space="preserve">4</text>
<text x="451" y="425.9" font-size="10" fill="#000080" stroke="#000080" stroke-width="0.25" text-anchor="start" font-family='"Liberation Serif", serif' xml:space="preserve">TR1</text>
<polyline points="478.5,314.5 721.5,314.5" stroke="#000080" stroke-width="1" fill="none"/>
<polyline points="478.5,358.5 633.5,358.5 633.5,424.5 1193.5,424.5" stroke="#000080" stroke-width="1" fill="none"/>
<polyline points="478.5,369.5 512.5,369.5" stroke="#000080" stroke-width="1" fill="none"/>
<rect x="512.5" y="366.5" width="22" height="6" stroke="#0000FF" fill="none"/>
<polyline points="534.5,369.5 556.5,369.5 556.5,407.5" stroke="#000080" stroke-width="1" fill="none"/>
<text x="498" y="378.9" font-size="10" fill="#000080" stroke="#000080" stroke-width="0.25" text-anchor="start" font-family='"Liberation Serif", serif' xml:space="preserve">R8</text>
<text x="513" y="382" font-size="10" fill="#000080" stroke="#000080" stroke-width="0.25" text-anchor="start" font-family='"Liberation Serif", serif' xml:space="preserve">100R  585</text>
<polyline points="478.5,413.5 501.5,413.5 501.5,495.5" stroke="#000080" stroke-width="1" fill="none"/>
<polygon points="544.6,407.4 568.4,407.4 556.5,418.2" fill="#0000FF" shape-rendering="geometricPrecision"/>
<line x1="544.6" y1="418.5" x2="568.4" y2="418.5" stroke="#0000FF" stroke-width="1"/>
<polyline points="556.5,418.5 556.5,463.5" stroke="#000080" stroke-width="1" fill="none"/>
<text x="568.4" y="409.9" font-size="10" fill="#000080" stroke="#000080" stroke-width="0.25" text-anchor="start" font-family='"Liberation Serif", serif' xml:space="preserve">D1</text>
<text x="568.4" y="421" font-size="10" fill="#000080" stroke="#000080" stroke-width="0.25" text-anchor="start" font-family='"Liberation Serif", serif' xml:space="preserve">1N4937 54</text>
<circle cx="556.5" cy="440.7" r="2.7" fill="#000080" shape-rendering="geometricPrecision"/>
<polyline points="556.5,440.5 583.5,440.5 583.5,506.5 649.5,506.5" stroke="#000080" stroke-width="1" fill="none"/>
<circle cx="583.5" cy="457.7" r="2.7" fill="#000080" shape-rendering="geometricPrecision"/>
<polyline points="583.5,457.5 605.5,457.5" stroke="#000080" stroke-width="1" fill="none"/>
<rect x="605.5" y="451.5" width="11" height="11" fill="#FFFF80" stroke="#800000" stroke-width="1"/>
<text x="595.5" y="455" font-size="10" fill="#000000" stroke="#000000" stroke-width="0.25" text-anchor="middle" font-family='"Liberation Serif", serif' xml:space="preserve">1</text>
<text x="606.6" y="471.1" font-size="10" fill="#000080" stroke="#000080" stroke-width="0.25" text-anchor="start" font-family='"Liberation Serif", serif' xml:space="preserve">12V BIAS</text>
<rect x="545" y="462.5" width="23" height="3" stroke="#0000FF" fill="none"/>
<path d="M545,477.6 A14.02,14.02 0 0 1 568,477.6 L568,479.6 A14.02,14.02 0 0 0 545,479.6 Z" stroke="#0000FF" stroke-width="1" fill="#D8D8FF" shape-rendering="geometricPrecision"/>
<path d="M543.3,457.2 h6 M546.3,454.2 v6" stroke="#0000FF" stroke-width="1.2" shape-rendering="geometricPrecision"/>
<text x="565.3" y="455.1" font-size="10" fill="#000080" stroke="#000080" stroke-width="0.25" text-anchor="start" font-family='"Liberation Serif", serif' xml:space="preserve">C7</text>
<text transform="translate(538.1,484) rotate(-90)" font-size="10" fill="#000080" stroke="#000080" stroke-width="0.1" font-family='"Liberation Serif", serif' xml:space="preserve">4,7uF/25V  1913</text>
<rect x="666.5" y="402.5" width="66" height="11" fill="#FFFF80" stroke="#800000" stroke-width="1"/>
<text x="676.8" y="411.25" font-size="10" fill="#800000" stroke="#800000" stroke-width="0.25" text-anchor="start" font-family='"Liberation Serif", serif' xml:space="preserve">COMMOM</text>
<polyline points="666.5,413.5 666.5,424.5" stroke="#000080" stroke-width="1" fill="none"/>
<circle cx="666.5" cy="424.7" r="2.7" fill="#000080" shape-rendering="geometricPrecision"/>
<polyline points="737.5,297.5 721.5,297.5 721.5,380.5 759.5,380.5" stroke="#000080" stroke-width="1" fill="none"/>
<circle cx="721.5" cy="314.7" r="2.7" fill="#000080" shape-rendering="geometricPrecision"/>
<circle cx="721.5" cy="336.7" r="2.7" fill="#000080" shape-rendering="geometricPrecision"/>
<rect x="737.5" y="294.5" width="22" height="7" stroke="#0000FF" fill="none"/>
<text x="739.4" y="292.8" font-size="10" fill="#000080" stroke="#000080" stroke-width="0.25" text-anchor="start" font-family='"Liberation Serif", serif' xml:space="preserve">R17</text>
<text x="728.4" y="311.6" font-size="10" fill="#000080" stroke="#000080" stroke-width="0.25" text-anchor="start" font-family='"Liberation Serif", serif' xml:space="preserve">680R 2W 2527</text>
<polyline points="759.5,297.5 795.5,297.5" stroke="#000080" stroke-width="1" fill="none"/>
<line x1="795.5" y1="286.7" x2="795.5" y2="308.3" stroke="#0000FF" stroke-width="1.4"/>
<line x1="801.5" y1="286.7" x2="801.5" y2="308.3" stroke="#0000FF" stroke-width="1.4"/>
<polyline points="801.5,297.5 830.5,297.5 830.5,386.5" stroke="#000080" stroke-width="1" fill="none"/>
<text x="786" y="283.3" font-size="10" fill="#000080" stroke="#000080" stroke-width="0.25" text-anchor="start" font-family='"Liberation Serif", serif' xml:space="preserve">C15</text>
<text x="806" y="293.8" font-size="10" fill="#000080" stroke="#000080" stroke-width="0.25" text-anchor="start" font-family='"Liberation Serif", serif' xml:space="preserve">100pF 1KV 2072</text>
<polyline points="721.5,336.5 759.5,336.5" stroke="#000080" stroke-width="1" fill="none"/>
<polygon points="758.9,324.8 758.9,348.2 770.2,336.5" fill="#0000FF" shape-rendering="geometricPrecision"/>
<line x1="770.5" y1="324.8" x2="770.5" y2="348.2" stroke="#0000FF" stroke-width="1"/>
<polygon points="758.9,368.8 758.9,392.2 770.2,380.5" fill="#0000FF" shape-rendering="geometricPrecision"/>
<line x1="770.5" y1="368.8" x2="770.5" y2="392.2" stroke="#0000FF" stroke-width="1"/>
<polyline points="770.5,336.5 786.5,336.5 786.5,380.5 770.5,380.5" stroke="#000080" stroke-width="1" fill="none"/>
<text x="753" y="321.3" font-size="10" fill="#000080" stroke="#000080" stroke-width="0.25" text-anchor="start" font-family='"Liberation Serif", serif' xml:space="preserve">D5</text>
<text x="741.3" y="411.8" font-size="10" fill="#000080" stroke="#000080" stroke-width="0.25" text-anchor="start" font-family='"Liberation Serif", serif' xml:space="preserve">16A 200V 1648</text>
<polyline points="786.5,358.5 862.5,358.5" stroke="#000080" stroke-width="1" fill="none"/>
<path d="M862.7,358.5 A4.18,4.18 0 0 1 871.07,358.5 A4.18,4.18 0 0 1 879.43,358.5 A4.18,4.18 0 0 1 887.8,358.5" stroke="#0000FF" stroke-width="1.05" fill="none" shape-rendering="geometricPrecision"/>
<polyline points="887.5,358.5 1116.5,358.5" stroke="#000080" stroke-width="1" fill="none"/>
<polyline points="1138.5,358.5 1193.5,358.5" stroke="#000080" stroke-width="1" fill="none"/>
<circle cx="808.5" cy="358.7" r="2.7" fill="#000080" shape-rendering="geometricPrecision"/>
<circle cx="830.5" cy="358.7" r="2.7" fill="#000080" shape-rendering="geometricPrecision"/>
<circle cx="1012.5" cy="358.7" r="2.7" fill="#000080" shape-rendering="geometricPrecision"/>
<circle cx="1044.5" cy="358.7" r="2.7" fill="#000080" shape-rendering="geometricPrecision"/>
<circle cx="1088.5" cy="358.7" r="2.7" fill="#000080" shape-rendering="geometricPrecision"/>
<text x="852.2" y="355.8" font-size="10" fill="#000000" stroke="#000000" stroke-width="0.25" text-anchor="middle" font-family='"Liberation Serif", serif' xml:space="preserve">1</text>
<text x="895.5" y="355.8" font-size="10" fill="#000000" stroke="#000000" stroke-width="0.25" text-anchor="middle" font-family='"Liberation Serif", serif' xml:space="preserve">2</text>
<text x="863.2" y="369.3" font-size="10" fill="#000080" stroke="#000080" stroke-width="0.25" text-anchor="start" font-family='"Liberation Serif", serif' xml:space="preserve">L4</text>
<text x="853" y="344.7" font-size="10" fill="#000080" stroke="#000080" stroke-width="0.25" text-anchor="start" font-family='"Liberation Serif", serif' xml:space="preserve">2.2uH 3A 2950</text>
<rect x="819.5" y="385.5" width="22" height="3" stroke="#0000FF" fill="none"/>
<path d="M819.5,399.6 A13.08,13.08 0 0 1 841.5,399.6 L841.5,401.6 A13.08,13.08 0 0 0 819.5,401.6 Z" stroke="#0000FF" stroke-width="1" fill="#D8D8FF" shape-rendering="geometricPrecision"/>
<path d="M817.8,380.2 h6 M820.8,377.2 v6" stroke="#0000FF" stroke-width="1.2" shape-rendering="geometricPrecision"/>
<polyline points="830.5,397.5 830.5,424.5" stroke="#000080" stroke-width="1" fill="none"/>
<text x="843.3" y="385.3" font-size="10" fill="#000080" stroke="#000080" stroke-width="0.25" text-anchor="start" font-family='"Liberation Serif", serif' xml:space="preserve">C17</text>
<text x="843.3" y="396.8" font-size="10" fill="#000080" stroke="#000080" stroke-width="0.25" text-anchor="start" font-family='"Liberation Serif", serif' xml:space="preserve">820uF/25V  2806</text>
<text x="851" y="407.9" font-size="10" fill="#000080" stroke="#000080" stroke-width="0.25" text-anchor="start" font-family='"Liberation Serif", serif' xml:space="preserve">Low ESR</text>
<circle cx="830.5" cy="424.7" r="2.7" fill="#000080" shape-rendering="geometricPrecision"/>
<circle cx="1012.5" cy="424.7" r="2.7" fill="#000080" shape-rendering="geometricPrecision"/>
<circle cx="1088.5" cy="424.7" r="2.7" fill="#000080" shape-rendering="geometricPrecision"/>
<polyline points="1012.5,358.5 1012.5,386.5" stroke="#000080" stroke-width="1" fill="none"/>
<polyline points="1012.5,397.5 1012.5,424.5" stroke="#000080" stroke-width="1" fill="none"/>
<rect x="1001.5" y="385.5" width="22" height="3" stroke="#0000FF" fill="none"/>
<path d="M1001.5,399.6 A13.08,13.08 0 0 1 1023.5,399.6 L1023.5,401.6 A13.08,13.08 0 0 0 1001.5,401.6 Z" stroke="#0000FF" stroke-width="1" fill="#D8D8FF" shape-rendering="geometricPrecision"/>
<path d="M999.8,380.2 h6 M1002.8,377.2 v6" stroke="#0000FF" stroke-width="1.2" shape-rendering="geometricPrecision"/>
<text x="972" y="375.6" font-size="10" fill="#000080" stroke="#000080" stroke-width="0.25" text-anchor="start" font-family='"Liberation Serif", serif' xml:space="preserve">10uF/50V  374</text>
<text x="983.3" y="397.6" font-size="10" fill="#000080" stroke="#000080" stroke-width="0.25" text-anchor="start" font-family='"Liberation Serif", serif' xml:space="preserve">C19</text>
<rect x="1116.5" y="354.9" width="22" height="7.2" stroke="#0000FF" fill="none"/>
<line x1="1116.5" y1="358.5" x2="1138.5" y2="358.5" stroke="#0000FF"/>
<text x="1118.3" y="351.1" font-size="10" fill="#000080" stroke="#000080" stroke-width="0.25" text-anchor="start" font-family='"Liberation Sans", sans-serif' xml:space="preserve">PS2</text>
<text x="1115.2" y="370.8" font-size="10" fill="#000080" stroke="#000080" stroke-width="0.25" text-anchor="start" font-family='"Liberation Serif", serif' xml:space="preserve">RXE135  75</text>
<rect x="1193.5" y="352.5" width="66" height="11" fill="#FFFF80" stroke="#800000" stroke-width="1"/>
<text x="1204" y="361.45" font-size="10" fill="#800000" stroke="#800000" stroke-width="0.25" text-anchor="start" font-family='"Liberation Serif", serif' xml:space="preserve">+12V CPU</text>
<rect x="1193.5" y="418.5" width="66" height="11" fill="#FFFF80" stroke="#800000" stroke-width="1"/>
<text x="1204" y="427.4" font-size="10" fill="#800000" stroke="#800000" stroke-width="0.25" text-anchor="start" font-family='"Liberation Serif", serif' xml:space="preserve">COMMOM</text>
<polyline points="1088.5,358.5 1088.5,389.5" stroke="#000080" stroke-width="1" fill="none"/>
<line x1="1077" y1="389.5" x2="1100" y2="389.5" stroke="#0000FF" stroke-width="1.4"/>
<line x1="1077" y1="394.5" x2="1100" y2="394.5" stroke="#0000FF" stroke-width="1.4"/>
<line x1="1088.5" y1="383.5" x2="1088.5" y2="389.5" stroke="#0000FF"/>
<line x1="1088.5" y1="394.5" x2="1088.5" y2="400.5" stroke="#0000FF"/>
<text x="1104.3" y="394.9" font-size="10" fill="#000080" stroke="#000080" stroke-width="0.25" text-anchor="start" font-family='"Liberation Serif", serif' xml:space="preserve">C21</text>
<text x="1096.2" y="407" font-size="10" fill="#000080" stroke="#000080" stroke-width="0.25" text-anchor="start" font-family='"Liberation Serif", serif' xml:space="preserve">1uF/63V  624</text>
<polyline points="1088.5,394.5 1088.5,682.5 808.5,682.5 808.5,649.5" stroke="#000080" stroke-width="1" fill="none"/>
<polyline points="808.5,358.5 808.5,506.5 682.5,506.5" stroke="#000080" stroke-width="1" fill="none"/>
<circle cx="808.5" cy="435.7" r="2.7" fill="#000080" shape-rendering="geometricPrecision"/>
<circle cx="830.5" cy="435.7" r="2.7" fill="#000080" shape-rendering="geometricPrecision"/>
<polyline points="808.5,435.5 852.5,435.5 852.5,446.5" stroke="#000080" stroke-width="1" fill="none"/>
<rect x="827.5" y="446.5" width="7" height="22" stroke="#0000FF" fill="none"/>
<rect x="849.5" y="446.5" width="7" height="22" stroke="#0000FF" fill="none"/>
<polyline points="830.5,435.5 830.5,446.5" stroke="#000080" stroke-width="1" fill="none"/>
<polyline points="830.5,468.5 830.5,528.5" stroke="#000080" stroke-width="1" fill="none"/>
<polyline points="830.5,550.5 830.5,561.5 984.5,561.5" stroke="#000080" stroke-width="1" fill="none"/>
<polyline points="852.5,468.5 852.5,610.5 808.5,610.5" stroke="#000080" stroke-width="1" fill="none"/>
<text x="814.4" y="484.1" font-size="10" fill="#000080" stroke="#000080" stroke-width="0.25" text-anchor="start" font-family='"Liberation Serif", serif' xml:space="preserve">R21</text>
<text transform="translate(826,474.4) rotate(-90)" font-size="10" fill="#000080" stroke="#000080" stroke-width="0.1" font-family='"Liberation Serif", serif' xml:space="preserve">1K 960</text>
<text x="856.3" y="454.9" font-size="10" fill="#000080" stroke="#000080" stroke-width="0.25" text-anchor="start" font-family='"Liberation Serif", serif' xml:space="preserve">R22</text>
<text x="856.3" y="466" font-size="10" fill="#000080" stroke="#000080" stroke-width="0.25" text-anchor="start" font-family='"Liberation Serif", serif' xml:space="preserve">15K 1326</text>
<rect x="649.5" y="503.5" width="33" height="17" fill="#FFFFB0" stroke="#800000" stroke-width="1.2"/>
<path d="M649.5,506.5 H655.5 L660.5,509 M649.5,517.5 H655.5 L660.5,515 M660.5,506 V518 M660.5,512.5 H663 M674.5,506.5 H682 M674.5,506.5 V517.5 H682 M671.5,514.5 H678" stroke="#0000FF" fill="none" stroke-width="1.1"/>
<polygon points="655.5,517.5 658.2,514.6 659,517.2" fill="#0000FF"/>
<polygon points="669.5,509.5 678,509.5 673.8,514.3" fill="#A0A0FF" stroke="#0000FF" stroke-width="0.9" shape-rendering="geometricPrecision"/>
<path d="M668,511 L671,508.5 M668.5,513 L671.5,510.5" stroke="#0000FF" stroke-width="0.9" shape-rendering="geometricPrecision"/>
<text x="648.9" y="501" font-size="10" fill="#000080" stroke="#000080" stroke-width="0.25" text-anchor="start" font-family='"Liberation Serif", serif' xml:space="preserve">OP1</text>
<text x="638.3" y="503.3" font-size="10" fill="#000000" stroke="#000000" stroke-width="0.25" text-anchor="middle" font-family='"Liberation Serif", serif' xml:space="preserve">6</text>
<text x="638.3" y="514.6" font-size="10" fill="#000000" stroke="#000000" stroke-width="0.25" text-anchor="middle" font-family='"Liberation Serif", serif' xml:space="preserve">4</text>
<text x="693.6" y="503.3" font-size="10" fill="#000000" stroke="#000000" stroke-width="0.25" text-anchor="middle" font-family='"Liberation Serif", serif' xml:space="preserve">1</text>
<text x="693.6" y="514.6" font-size="10" fill="#000000" stroke="#000000" stroke-width="0.25" text-anchor="middle" font-family='"Liberation Serif", serif' xml:space="preserve">3</text>
<text x="649.6" y="529.8" font-size="10" fill="#000080" stroke="#000080" stroke-width="0.25" text-anchor="start" font-family='"Liberation Serif", serif' xml:space="preserve">TLP181</text>
<text x="656" y="536.8" font-size="10" fill="#000080" stroke="#000080" stroke-width="0.25" text-anchor="start" font-family='"Liberation Serif", serif' xml:space="preserve">1991</text>
<polyline points="682.5,517.5 877.5,517.5" stroke="#000080" stroke-width="1" fill="none"/>
<polyline points="882.5,517.5 918.5,517.5" stroke="#000080" stroke-width="1" fill="none"/>
<polyline points="940.5,517.5 962.5,517.5 962.5,561.5" stroke="#000080" stroke-width="1" fill="none"/>
<circle cx="808.5" cy="517.7" r="2.7" fill="#000080" shape-rendering="geometricPrecision"/>
<circle cx="830.5" cy="517.7" r="2.7" fill="#000080" shape-rendering="geometricPrecision"/>
<line x1="877.5" y1="506.6" x2="877.5" y2="528.4" stroke="#0000FF" stroke-width="1.4"/>
<line x1="882.5" y1="506.6" x2="882.5" y2="528.4" stroke="#0000FF" stroke-width="1.4"/>
<rect x="918.5" y="513.5" width="22" height="7" stroke="#0000FF" fill="none"/>
<text x="871.7" y="493.3" font-size="10" fill="#000080" stroke="#000080" stroke-width="0.25" text-anchor="start" font-family='"Liberation Serif", serif' xml:space="preserve">NC</text>
<text x="868" y="502.8" font-size="10" fill="#000080" stroke="#000080" stroke-width="0.25" text-anchor="start" font-family='"Liberation Serif", serif' xml:space="preserve">C23</text>
<text x="858.6" y="536.8" font-size="10" fill="#000080" stroke="#000080" stroke-width="0.25" text-anchor="start" font-family='"Liberation Serif", serif' xml:space="preserve">100nF/50V 588</text>
<text x="920" y="502.6" font-size="10" fill="#000080" stroke="#000080" stroke-width="0.25" text-anchor="start" font-family='"Liberation Serif", serif' xml:space="preserve">NC</text>
<text x="918.6" y="511.7" font-size="10" fill="#000080" stroke="#000080" stroke-width="0.25" text-anchor="start" font-family='"Liberation Serif", serif' xml:space="preserve">R24</text>
<rect x="826.5" y="528.5" width="7" height="22" stroke="#0000FF" fill="none"/>
<text transform="translate(842.3,542.3) rotate(-90)" font-size="10" fill="#000080" stroke="#000080" stroke-width="0.1" font-family='"Liberation Serif", serif' xml:space="preserve">330R  880</text>
<text x="832.8" y="559.9" font-size="10" fill="#000080" stroke="#000080" stroke-width="0.25" text-anchor="start" font-family='"Liberation Serif", serif' xml:space="preserve">R23</text>
<polygon points="796.4,539 820.6,539 808.5,550.3" fill="#0000FF" shape-rendering="geometricPrecision"/>
<line x1="796.4" y1="550.5" x2="820.6" y2="550.5" stroke="#0000FF" stroke-width="1"/>
<polyline points="808.5,517.5 808.5,539.5" stroke="#000080" stroke-width="1" fill="none"/>
<polyline points="808.5,550.5 808.5,639.5" stroke="#000080" stroke-width="1" fill="none"/>
<text x="791.3" y="559.9" font-size="10" fill="#000080" stroke="#000080" stroke-width="0.25" text-anchor="start" font-family='"Liberation Serif", serif' xml:space="preserve">D6</text>
<text transform="translate(820.5,603.5) rotate(-90)" font-size="10" fill="#000080" stroke="#000080" stroke-width="0.1" font-family='"Liberation Serif", serif' xml:space="preserve">1N4148 592</text>
<circle cx="808.5" cy="610.7" r="2.7" fill="#000080" shape-rendering="geometricPrecision"/>
<rect x="797.3" y="638.5" width="22.4" height="3" stroke="#0000FF" fill="none"/>
<path d="M797.3,652.1 A13.45,13.45 0 0 1 819.7,652.1 L819.7,654.1 A13.45,13.45 0 0 0 797.3,654.1 Z" stroke="#0000FF" stroke-width="1" fill="#D8D8FF" shape-rendering="geometricPrecision"/>
<path d="M795.6,633.2 h6 M798.6,630.2 v6" stroke="#0000FF" stroke-width="1.2" shape-rendering="geometricPrecision"/>
<text x="780.5" y="651.1" font-size="10" fill="#000080" stroke="#000080" stroke-width="0.25" text-anchor="start" font-family='"Liberation Serif", serif' xml:space="preserve">C22</text>
<text x="827.2" y="648.5" font-size="10" fill="#000080" stroke="#000080" stroke-width="0.25" text-anchor="start" font-family='"Liberation Serif", serif' xml:space="preserve">1uF/100V  85</text>
<circle cx="869.5" cy="561.7" r="2.7" fill="#000080" shape-rendering="geometricPrecision"/>
<circle cx="918.5" cy="561.7" r="2.7" fill="#000080" shape-rendering="geometricPrecision"/>
<circle cx="962.5" cy="561.7" r="2.7" fill="#000080" shape-rendering="geometricPrecision"/>
<circle cx="1028.5" cy="561.7" r="2.7" fill="#000080" shape-rendering="geometricPrecision"/>
<circle cx="1044.5" cy="561.7" r="2.7" fill="#000080" shape-rendering="geometricPrecision"/>
<polyline points="869.5,561.5 869.5,588.5 887.5,588.5" stroke="#000080" stroke-width="1" fill="none"/>
<polyline points="893.5,588.5 940.5,588.5" stroke="#000080" stroke-width="1" fill="none"/>
<polyline points="962.5,588.5 1028.5,588.5 1028.5,561.5" stroke="#000080" stroke-width="1" fill="none"/>
<line x1="887.5" y1="577.4" x2="887.5" y2="599.6" stroke="#0000FF" stroke-width="1.4"/>
<line x1="893.5" y1="577.4" x2="893.5" y2="599.6" stroke="#0000FF" stroke-width="1.4"/>
<rect x="940.5" y="584.5" width="22" height="7" stroke="#0000FF" fill="none"/>
<text x="879.2" y="575" font-size="10" fill="#000080" stroke="#000080" stroke-width="0.25" text-anchor="start" font-family='"Liberation Serif", serif' xml:space="preserve">C24</text>
<text x="866.7" y="611.3" font-size="10" fill="#000080" stroke="#000080" stroke-width="0.25" text-anchor="start" font-family='"Liberation Serif", serif' xml:space="preserve">1uF/6.3V  1911</text>
<text x="940.7" y="582.5" font-size="10" fill="#000080" stroke="#000080" stroke-width="0.25" text-anchor="start" font-family='"Liberation Serif", serif' xml:space="preserve">R25</text>
<text x="940.7" y="600.6" font-size="10" fill="#000080" stroke="#000080" stroke-width="0.25" text-anchor="start" font-family='"Liberation Serif", serif' xml:space="preserve">220R  691</text>
<polyline points="918.5,561.5 918.5,641.5" stroke="#000080" stroke-width="1" fill="none"/>
<polyline points="918.5,647.5 918.5,682.5" stroke="#000080" stroke-width="1" fill="none"/>
<line x1="907.2" y1="641.5" x2="929.8" y2="641.5" stroke="#0000FF" stroke-width="1.4"/>
<line x1="907.2" y1="647.5" x2="929.8" y2="647.5" stroke="#0000FF" stroke-width="1.4"/>
<line x1="918.5" y1="635.5" x2="918.5" y2="641.5" stroke="#0000FF"/>
<line x1="918.5" y1="647.5" x2="918.5" y2="653.5" stroke="#0000FF"/>
<text x="930.7" y="639.5" font-size="10" fill="#000080" stroke="#000080" stroke-width="0.25" text-anchor="start" font-family='"Liberation Serif", serif' xml:space="preserve">C6</text>
<text x="930.7" y="650.8" font-size="10" fill="#000080" stroke="#000080" stroke-width="0.25" text-anchor="start" font-family='"Liberation Serif", serif' xml:space="preserve">33pF</text>
<rect x="984.5" y="555.5" width="22" height="11" fill="#FFFFB0" stroke="#800000" stroke-width="1.2"/>
<polyline points="1006.5,561.5 1044.5,561.5" stroke="#000080" stroke-width="1" fill="none"/>
<polyline points="995.5,566.5 995.5,682.5" stroke="#000080" stroke-width="1" fill="none"/>
<text x="988" y="534.8" font-size="10" fill="#000080" stroke="#000080" stroke-width="0.25" text-anchor="start" font-family='"Liberation Serif", serif' xml:space="preserve">U2</text>
<text x="983" y="543.6" font-size="10" fill="#000080" stroke="#000080" stroke-width="0.25" text-anchor="start" font-family='"Liberation Serif", serif' xml:space="preserve">TL431</text>
<text x="967" y="551.9" font-size="10" fill="#000080" stroke="#000080" stroke-width="0.25" text-anchor="start" font-family='"Liberation Serif", serif' xml:space="preserve">REF 2,5V  205</text>
<text x="974" y="559.6" font-size="10" fill="#000000" stroke="#000000" stroke-width="0.25" text-anchor="middle" font-family='"Liberation Serif", serif' xml:space="preserve">3</text>
<text x="1018" y="559.6" font-size="10" fill="#000000" stroke="#000000" stroke-width="0.25" text-anchor="middle" font-family='"Liberation Serif", serif' xml:space="preserve">1</text>
<text transform="translate(993.5,577.5) rotate(-90)" font-size="10" fill="#000" text-anchor="middle" font-family='"Liberation Serif", serif'>2</text>
<polyline points="1044.5,358.5 1044.5,517.5" stroke="#000080" stroke-width="1" fill="none"/>
<polyline points="1044.5,539.5 1044.5,577.5" stroke="#000080" stroke-width="1" fill="none"/>
<polyline points="1044.5,599.5 1044.5,627.5" stroke="#000080" stroke-width="1" fill="none"/>
<polyline points="1044.5,649.5 1044.5,682.5" stroke="#000080" stroke-width="1" fill="none"/>
<rect x="1041.5" y="517.5" width="7" height="22" stroke="#0000FF" fill="none"/>
<rect x="1041.5" y="577.5" width="7" height="22" stroke="#0000FF" fill="none"/>
<rect x="1041.5" y="627.5" width="7" height="22" stroke="#0000FF" fill="none"/>
<text x="1047.7" y="525.5" font-size="10" fill="#000080" stroke="#000080" stroke-width="0.25" text-anchor="start" font-family='"Liberation Serif", serif' xml:space="preserve">R18</text>
<text x="1047.7" y="536.6" font-size="10" fill="#000080" stroke="#000080" stroke-width="0.25" text-anchor="start" font-family='"Liberation Serif", serif' xml:space="preserve">33K 1596</text>
<text x="1047.7" y="586.8" font-size="10" fill="#000080" stroke="#000080" stroke-width="0.25" text-anchor="start" font-family='"Liberation Serif", serif' xml:space="preserve">R19</text>
<text x="1047.7" y="597.6" font-size="10" fill="#000080" stroke="#000080" stroke-width="0.25" text-anchor="start" font-family='"Liberation Serif", serif' xml:space="preserve">4K7 963</text>
<text x="1047.7" y="636" font-size="10" fill="#000080" stroke="#000080" stroke-width="0.25" text-anchor="start" font-family='"Liberation Serif", serif' xml:space="preserve">R20</text>
<text x="1047.7" y="646.5" font-size="10" fill="#000080" stroke="#000080" stroke-width="0.25" text-anchor="start" font-family='"Liberation Serif", serif' xml:space="preserve">3K6  2062</text>
<circle cx="918.5" cy="682.7" r="2.7" fill="#000080" shape-rendering="geometricPrecision"/>
<circle cx="995.5" cy="682.7" r="2.7" fill="#000080" shape-rendering="geometricPrecision"/>
<circle cx="1044.5" cy="682.7" r="2.7" fill="#000080" shape-rendering="geometricPrecision"/>
<circle cx="507.5" cy="517.7" r="2.7" fill="#000080" shape-rendering="geometricPrecision"/>
<circle cx="556.5" cy="517.7" r="2.7" fill="#000080" shape-rendering="geometricPrecision"/>
<circle cx="583.5" cy="517.7" r="2.7" fill="#000080" shape-rendering="geometricPrecision"/>
<circle cx="507.5" cy="572.7" r="2.7" fill="#000080" shape-rendering="geometricPrecision"/>
<circle cx="507.5" cy="682.7" r="2.7" fill="#000080" shape-rendering="geometricPrecision"/>
<circle cx="556.5" cy="682.7" r="2.7" fill="#000080" shape-rendering="geometricPrecision"/>
<polyline points="507.5,517.5 507.5,533.5" stroke="#000080" stroke-width="1" fill="none"/>
<polyline points="507.5,555.5 507.5,588.5" stroke="#000080" stroke-width="1" fill="none"/>
<polyline points="507.5,610.5 507.5,682.5" stroke="#000080" stroke-width="1" fill="none"/>
<rect x="504.5" y="533.5" width="7" height="22" stroke="#0000FF" fill="none"/>
<rect x="504.5" y="588.5" width="7" height="22" stroke="#0000FF" fill="none"/>
<text x="484" y="546.6" font-size="10" fill="#000080" stroke="#000080" stroke-width="0.25" text-anchor="start" font-family='"Liberation Serif", serif' xml:space="preserve">NC</text>
<text x="510.3" y="542.3" font-size="10" fill="#000080" stroke="#000080" stroke-width="0.25" text-anchor="start" font-family='"Liberation Serif", serif' xml:space="preserve">R10</text>
<text x="510.3" y="597.6" font-size="10" fill="#000080" stroke="#000080" stroke-width="0.25" text-anchor="start" font-family='"Liberation Serif", serif' xml:space="preserve">R11</text>
<text transform="translate(501.5,622) rotate(-90)" font-size="10" fill="#000080" stroke="#000080" stroke-width="0.1" font-family='"Liberation Serif", serif' xml:space="preserve">0R 2060</text>
<polyline points="556.5,517.5 556.5,542.5" stroke="#000080" stroke-width="1" fill="none"/>
<polyline points="556.5,548.5 556.5,682.5" stroke="#000080" stroke-width="1" fill="none"/>
<line x1="545" y1="542.5" x2="568" y2="542.5" stroke="#0000FF" stroke-width="1.4"/>
<line x1="545" y1="548.5" x2="568" y2="548.5" stroke="#0000FF" stroke-width="1.4"/>
<line x1="556.5" y1="536.5" x2="556.5" y2="542.5" stroke="#0000FF"/>
<line x1="556.5" y1="548.5" x2="556.5" y2="554.5" stroke="#0000FF"/>
<text x="535.4" y="539.1" font-size="10" fill="#000080" stroke="#000080" stroke-width="0.25" text-anchor="start" font-family='"Liberation Serif", serif' xml:space="preserve">C11</text>
<text transform="translate(544.2,555) rotate(90)" font-size="10" fill="#000080" stroke="#000080" stroke-width="0.1" font-family='"Liberation Serif", serif' xml:space="preserve">470nF/16V  1910</text>
<polyline points="583.5,517.5 583.5,533.5" stroke="#000080" stroke-width="1" fill="none"/>
<polyline points="583.5,555.5 583.5,589.5" stroke="#000080" stroke-width="1" fill="none"/>
<polyline points="583.5,600.5 583.5,682.5 122.5,682.5" stroke="#000080" stroke-width="1" fill="none"/>
<rect x="579.5" y="533.5" width="7" height="22" stroke="#0000FF" fill="none"/>
<text x="590.1" y="557.9" font-size="10" fill="#000080" stroke="#000080" stroke-width="0.25" text-anchor="start" font-family='"Liberation Serif", serif' xml:space="preserve">R9</text>
<text transform="translate(576.3,564.1) rotate(-90)" font-size="10" fill="#000080" stroke="#000080" stroke-width="0.1" font-family='"Liberation Serif", serif' xml:space="preserve">1R  1933</text>
<rect x="572.5" y="588.5" width="22" height="3" stroke="#0000FF" fill="none"/>
<path d="M572.5,603.2 A13.08,13.08 0 0 1 594.5,603.2 L594.5,605.2 A13.08,13.08 0 0 0 572.5,605.2 Z" stroke="#0000FF" stroke-width="1" fill="#D8D8FF" shape-rendering="geometricPrecision"/>
<path d="M570.8,583.2 h6 M573.8,580.2 v6" stroke="#0000FF" stroke-width="1.2" shape-rendering="geometricPrecision"/>
<text x="595.7" y="588.8" font-size="10" fill="#000080" stroke="#000080" stroke-width="0.25" text-anchor="start" font-family='"Liberation Serif", serif' xml:space="preserve">C10</text>
<text x="595.7" y="599.6" font-size="10" fill="#000080" stroke="#000080" stroke-width="0.25" text-anchor="start" font-family='"Liberation Serif", serif' xml:space="preserve">68uF/16V  1914</text>
<rect x="221.5" y="774.5" width="8" height="9" fill="#FFFF80" stroke="#800000" stroke-width="1"/>
<text x="237.6" y="777.5" font-size="8" fill="#000000" stroke="#000000" stroke-width="0.25" text-anchor="middle" font-family='"Liberation Serif", serif' xml:space="preserve">1</text>
<text x="221.3" y="789.8" font-size="8" fill="#000080" stroke="#000080" stroke-width="0.25" text-anchor="start" font-family='"Liberation Serif", serif' xml:space="preserve">+12V CPU</text>
<polyline points="229.5,779.5 264.5,779.5 264.5,796.5" stroke="#000080" stroke-width="1" fill="none"/>
<rect x="195.5" y="792.5" width="51" height="8" fill="#FFFF80" stroke="#800000" stroke-width="1"/>
<text x="204" y="799.22" font-size="8" fill="#800000" stroke="#800000" stroke-width="0.25" text-anchor="start" font-family='"Liberation Serif", serif' xml:space="preserve">+12V CPU</text>
<rect x="195.5" y="809.5" width="52" height="8" fill="#FFFF80" stroke="#800000" stroke-width="1"/>
<text x="204" y="816.22" font-size="8" fill="#800000" stroke="#800000" stroke-width="0.25" text-anchor="start" font-family='"Liberation Serif", serif' xml:space="preserve">COMMOM</text>
<rect x="221.5" y="826.5" width="8" height="9" fill="#FFFF80" stroke="#800000" stroke-width="1"/>
<text x="237.6" y="829" font-size="8" fill="#000000" stroke="#000000" stroke-width="0.25" text-anchor="middle" font-family='"Liberation Serif", serif' xml:space="preserve">1</text>
<text x="221.3" y="841.5" font-size="8" fill="#000080" stroke="#000080" stroke-width="0.25" text-anchor="start" font-family='"Liberation Serif", serif' xml:space="preserve">+0V CPU</text>
<polyline points="229.5,830.5 264.5,830.5 264.5,813.5" stroke="#000080" stroke-width="1" fill="none"/>
<polyline points="246.5,796.5 272.5,796.5" stroke="#000080" stroke-width="1" fill="none"/>
<polyline points="291.5,796.5 440.5,796.5" stroke="#000080" stroke-width="1" fill="none"/>
<polyline points="247.5,813.5 272.5,813.5" stroke="#000080" stroke-width="1" fill="none"/>
<polyline points="291.5,813.5 298.5,813.5 298.5,865.5" stroke="#000080" stroke-width="1" fill="none"/>
<circle cx="264.5" cy="796.7" r="2.2" fill="#000080" shape-rendering="geometricPrecision"/>
<circle cx="264.5" cy="813.7" r="2.2" fill="#000080" shape-rendering="geometricPrecision"/>
<path d="M272,796.5 A3.27,3.27 0 0 1 278.53,796.5 A3.27,3.27 0 0 1 285.07,796.5 A3.27,3.27 0 0 1 291.6,796.5" stroke="#0000FF" stroke-width="1.05" fill="none" shape-rendering="geometricPrecision"/>
<line x1="272" y1="789.5" x2="291.6" y2="789.5" stroke="#000000" stroke-width="1"/>
<line x1="272" y1="791.5" x2="291.6" y2="791.5" stroke="#000000" stroke-width="1"/>
<path d="M272,813.5 A3.27,3.27 0 0 1 278.53,813.5 A3.27,3.27 0 0 1 285.07,813.5 A3.27,3.27 0 0 1 291.6,813.5" stroke="#0000FF" stroke-width="1.05" fill="none" shape-rendering="geometricPrecision"/>
<line x1="272" y1="806.5" x2="291.6" y2="806.5" stroke="#000000" stroke-width="1"/>
<line x1="272" y1="808.5" x2="291.6" y2="808.5" stroke="#000000" stroke-width="1"/>
<text x="272" y="786.7" font-size="8" fill="#000080" stroke="#000080" stroke-width="0.25" text-anchor="start" font-family='"Liberation Serif", serif' xml:space="preserve">F1</text>
<text x="270.6" y="820.7" font-size="8" fill="#000080" stroke="#000080" stroke-width="0.25" text-anchor="start" font-family='"Liberation Serif", serif' xml:space="preserve">F2</text>
<text x="251.2" y="764.8" font-size="8" fill="#000080" stroke="#000080" stroke-width="0.25" text-anchor="start" font-family='"Liberation Serif", serif' xml:space="preserve">BLM41PG600SN1 2949</text>
<text x="264.8" y="827.9" font-size="8" fill="#000080" stroke="#000080" stroke-width="0.25" text-anchor="start" font-family='"Liberation Serif", serif' xml:space="preserve">BLM41PG600SN1 2949</text>
<line x1="290" y1="865.5" x2="307" y2="865.5" stroke="#800000" stroke-width="1.1"/>
<line x1="292.38" y1="868.2" x2="304.62" y2="868.2" stroke="#800000" stroke-width="1.1"/>
<line x1="294.68" y1="870.9" x2="302.32" y2="870.9" stroke="#800000" stroke-width="1.1"/>
<line x1="296.8" y1="873.6" x2="300.2" y2="873.6" stroke="#800000" stroke-width="1.1"/>
<line x1="298.5" y1="859.5" x2="298.5" y2="865.5" stroke="#800000"/>
<text x="298.5" y="881" font-size="8" fill="#800000" stroke="#800000" stroke-width="0.25" text-anchor="middle" font-family='"Liberation Serif", serif' xml:space="preserve">GND</text>
<polyline points="350.5,796.5 350.5,811.5" stroke="#000080" stroke-width="1" fill="none"/>
<polyline points="350.5,816.5 350.5,865.5" stroke="#000080" stroke-width="1" fill="none"/>
<line x1="341.8" y1="811.5" x2="359.2" y2="811.5" stroke="#0000FF" stroke-width="1.2"/>
<line x1="341.8" y1="816.5" x2="359.2" y2="816.5" stroke="#0000FF" stroke-width="1.2"/>
<line x1="350.5" y1="805.5" x2="350.5" y2="811.5" stroke="#0000FF"/>
<line x1="350.5" y1="816.5" x2="350.5" y2="822.5" stroke="#0000FF"/>
<circle cx="350.5" cy="796.7" r="2.2" fill="#000080" shape-rendering="geometricPrecision"/>
<line x1="342" y1="865.5" x2="359" y2="865.5" stroke="#800000" stroke-width="1.1"/>
<line x1="344.38" y1="868.2" x2="356.62" y2="868.2" stroke="#800000" stroke-width="1.1"/>
<line x1="346.68" y1="870.9" x2="354.32" y2="870.9" stroke="#800000" stroke-width="1.1"/>
<line x1="348.8" y1="873.6" x2="352.2" y2="873.6" stroke="#800000" stroke-width="1.1"/>
<line x1="350.5" y1="859.5" x2="350.5" y2="865.5" stroke="#800000"/>
<text x="350.5" y="881" font-size="8" fill="#800000" stroke="#800000" stroke-width="0.25" text-anchor="middle" font-family='"Liberation Serif", serif' xml:space="preserve">GND</text>
<text x="302.9" y="772.7" font-size="8" fill="#000080" stroke="#000080" stroke-width="0.25" text-anchor="start" font-family='"Liberation Serif", serif' xml:space="preserve">GRM32DR61E106KA12L</text>
<text x="341.3" y="780.7" font-size="8" fill="#000080" stroke="#000080" stroke-width="0.25" text-anchor="start" font-family='"Liberation Serif", serif' xml:space="preserve">C25</text>
<text x="328.6" y="789.8" font-size="8" fill="#000080" stroke="#000080" stroke-width="0.25" text-anchor="start" font-family='"Liberation Serif", serif' xml:space="preserve">10nF 25V   3315</text>
<line x1="396" y1="766.5" x2="407" y2="766.5" stroke="#800000" stroke-width="1.1"/>
<line x1="401.5" y1="766.5" x2="401.5" y2="773.5" stroke="#800000"/>
<text x="401.5" y="763.5" font-size="8" fill="#800000" stroke="#800000" stroke-width="0.25" text-anchor="middle" font-family='"Liberation Serif", serif' xml:space="preserve">+12V</text>
<polyline points="401.5,774.5 401.5,796.5" stroke="#000080" stroke-width="1" fill="none"/>
<circle cx="401.5" cy="796.7" r="2.2" fill="#000080" shape-rendering="geometricPrecision"/>
<rect x="440.5" y="781.5" width="82" height="49" fill="#FFFFB0" stroke="#800000" stroke-width="1.2"/>
<text x="474.9" y="777.5" font-size="8" fill="#000080" stroke="#000080" stroke-width="0.25" text-anchor="start" font-family='"Liberation Serif", serif' xml:space="preserve">U3</text>
<text x="490.3" y="777.5" font-size="8" fill="#000080" stroke="#000080" stroke-width="0.25" text-anchor="start" font-family='"Liberation Serif", serif' xml:space="preserve">L5973D</text>
<text x="446.8" y="790" font-size="8" fill="#000" stroke="#000" stroke-width="0.25" text-anchor="start" font-family='"Liberation Serif", serif' xml:space="preserve">VREF</text>
<text x="446.8" y="798.7" font-size="8" fill="#000" stroke="#000" stroke-width="0.25" text-anchor="start" font-family='"Liberation Serif", serif' xml:space="preserve">VCC</text>
<text x="446.8" y="807.2" font-size="8" fill="#000" stroke="#000" stroke-width="0.25" text-anchor="start" font-family='"Liberation Serif", serif' xml:space="preserve">SYNC</text>
<text x="446.8" y="815.4" font-size="8" fill="#000" stroke="#000" stroke-width="0.25" text-anchor="start" font-family='"Liberation Serif", serif' xml:space="preserve">COMP</text>
<text x="451.3" y="822.6" font-size="8" fill="#000" stroke="#000" stroke-width="0.25" text-anchor="start" font-family='"Liberation Serif", serif' xml:space="preserve">INH</text>
<text x="471.2" y="822.6" font-size="8" fill="#000" stroke="#000" stroke-width="0.25" text-anchor="start" font-family='"Liberation Serif", serif' xml:space="preserve">GND</text>
<text x="491.2" y="822.6" font-size="8" fill="#000" stroke="#000" stroke-width="0.25" text-anchor="start" font-family='"Liberation Serif", serif' xml:space="preserve">EX-PAD</text>
<text x="504.8" y="790" font-size="8" fill="#000" stroke="#000" stroke-width="0.25" text-anchor="start" font-family='"Liberation Serif", serif' xml:space="preserve">Out</text>
<text x="507.5" y="807.8" font-size="8" fill="#000" stroke="#000" stroke-width="0.25" text-anchor="start" font-family='"Liberation Serif", serif' xml:space="preserve">FB</text>
<line x1="432.5" y1="787.5" x2="440.5" y2="787.5" stroke="#000"/>
<text x="434" y="785.8" font-size="8" fill="#000000" stroke="#000000" stroke-width="0.25" text-anchor="middle" font-family='"Liberation Serif", serif' xml:space="preserve">6</text>
<line x1="432.5" y1="795.5" x2="440.5" y2="795.5" stroke="#000"/>
<text x="434" y="794.5" font-size="8" fill="#000000" stroke="#000000" stroke-width="0.25" text-anchor="middle" font-family='"Liberation Serif", serif' xml:space="preserve">8</text>
<line x1="432.5" y1="805.5" x2="440.5" y2="805.5" stroke="#000"/>
<text x="434" y="802.6" font-size="8" fill="#000000" stroke="#000000" stroke-width="0.25" text-anchor="middle" font-family='"Liberation Serif", serif' xml:space="preserve">2</text>
<line x1="432.5" y1="813.5" x2="440.5" y2="813.5" stroke="#000"/>
<text x="434" y="811.3" font-size="8" fill="#000000" stroke="#000000" stroke-width="0.25" text-anchor="middle" font-family='"Liberation Serif", serif' xml:space="preserve">4</text>
<polyline points="440.5,813.5 384.5,813.5 384.5,828.5" stroke="#000080" stroke-width="1" fill="none"/>
<polyline points="384.5,832.5 384.5,899.5 638.5,899.5 638.5,882.5" stroke="#000080" stroke-width="1" fill="none"/>
<line x1="375.9" y1="828.5" x2="393.1" y2="828.5" stroke="#0000FF" stroke-width="1.2"/>
<line x1="375.9" y1="832.5" x2="393.1" y2="832.5" stroke="#0000FF" stroke-width="1.2"/>
<line x1="384.5" y1="822.5" x2="384.5" y2="828.5" stroke="#0000FF"/>
<line x1="384.5" y1="832.5" x2="384.5" y2="838.5" stroke="#0000FF"/>
<polyline points="418.5,813.5 418.5,829.5" stroke="#000080" stroke-width="1" fill="none"/>
<polyline points="418.5,833.5 418.5,865.5" stroke="#000080" stroke-width="1" fill="none"/>
<polyline points="418.5,882.5 418.5,899.5" stroke="#000080" stroke-width="1" fill="none"/>
<line x1="409.9" y1="829.5" x2="427.1" y2="829.5" stroke="#0000FF" stroke-width="1.2"/>
<line x1="409.9" y1="833.5" x2="427.1" y2="833.5" stroke="#0000FF" stroke-width="1.2"/>
<line x1="418.5" y1="823.5" x2="418.5" y2="829.5" stroke="#0000FF"/>
<line x1="418.5" y1="833.5" x2="418.5" y2="839.5" stroke="#0000FF"/>
<rect x="415.5" y="865.5" width="5" height="17" stroke="#0000FF" fill="none"/>
<circle cx="418.5" cy="813.7" r="2.2" fill="#000080" shape-rendering="geometricPrecision"/>
<circle cx="418.5" cy="899.7" r="2.2" fill="#000080" shape-rendering="geometricPrecision"/>
<text x="363.6" y="825.7" font-size="8" fill="#000080" stroke="#000080" stroke-width="0.25" text-anchor="start" font-family='"Liberation Serif", serif' xml:space="preserve">220pF 2214</text>
<text x="369.6" y="839.7" font-size="8" fill="#000080" stroke="#000080" stroke-width="0.25" text-anchor="start" font-family='"Liberation Serif", serif' xml:space="preserve">C27</text>
<text x="421.1" y="826.5" font-size="8" fill="#000080" stroke="#000080" stroke-width="0.25" text-anchor="start" font-family='"Liberation Serif", serif' xml:space="preserve">C26</text>
<text x="401.7" y="839.7" font-size="8" fill="#000080" stroke="#000080" stroke-width="0.25" text-anchor="start" font-family='"Liberation Serif", serif' xml:space="preserve">22nF 874</text>
<text x="423.4" y="867.5" font-size="8" fill="#000080" stroke="#000080" stroke-width="0.25" text-anchor="start" font-family='"Liberation Serif", serif' xml:space="preserve">R30</text>
<text x="423.4" y="876.9" font-size="8" fill="#000080" stroke="#000080" stroke-width="0.25" text-anchor="start" font-family='"Liberation Serif", serif' xml:space="preserve">4K7 963</text>
<text x="531" y="785.5" font-size="8" fill="#000000" stroke="#000000" stroke-width="0.25" text-anchor="middle" font-family='"Liberation Serif", serif' xml:space="preserve">1</text>
<text x="531" y="802.8" font-size="8" fill="#000000" stroke="#000000" stroke-width="0.25" text-anchor="middle" font-family='"Liberation Serif", serif' xml:space="preserve">5</text>
<text x="454.9" y="845" font-size="8" fill="#000000" stroke="#000000" stroke-width="0.25" text-anchor="middle" font-family='"Liberation Serif", serif' xml:space="preserve">3</text>
<text x="476.7" y="845" font-size="8" fill="#000000" stroke="#000000" stroke-width="0.25" text-anchor="middle" font-family='"Liberation Serif", serif' xml:space="preserve">7</text>
<text x="501.7" y="845" font-size="8" fill="#000000" stroke="#000000" stroke-width="0.25" text-anchor="middle" font-family='"Liberation Serif", serif' xml:space="preserve">9</text>
<polyline points="457.5,830.5 457.5,899.5" stroke="#000080" stroke-width="1" fill="none"/>
<polyline points="479.5,830.5 479.5,899.5" stroke="#000080" stroke-width="1" fill="none"/>
<polyline points="505.5,830.5 505.5,899.5" stroke="#000080" stroke-width="1" fill="none"/>
<circle cx="457.5" cy="899.7" r="2.2" fill="#000080" shape-rendering="geometricPrecision"/>
<circle cx="479.5" cy="899.7" r="2.2" fill="#000080" shape-rendering="geometricPrecision"/>
<circle cx="505.5" cy="899.7" r="2.2" fill="#000080" shape-rendering="geometricPrecision"/>
<circle cx="505.5" cy="865.7" r="2.2" fill="#000080" shape-rendering="geometricPrecision"/>
<polyline points="505.5,865.5 526.5,865.5 526.5,873.5" stroke="#000080" stroke-width="1" fill="none"/>
<line x1="518" y1="873.5" x2="535" y2="873.5" stroke="#800000" stroke-width="1.1"/>
<line x1="520.38" y1="876.2" x2="532.62" y2="876.2" stroke="#800000" stroke-width="1.1"/>
<line x1="522.67" y1="878.9" x2="530.33" y2="878.9" stroke="#800000" stroke-width="1.1"/>
<line x1="524.8" y1="881.6" x2="528.2" y2="881.6" stroke="#800000" stroke-width="1.1"/>
<line x1="526.5" y1="867.5" x2="526.5" y2="873.5" stroke="#800000"/>
<text x="526.5" y="889" font-size="8" fill="#800000" stroke="#800000" stroke-width="0.25" text-anchor="middle" font-family='"Liberation Serif", serif' xml:space="preserve">GND</text>
<polyline points="522.5,787.5 581.5,787.5" stroke="#000080" stroke-width="1" fill="none"/>
<polyline points="600.5,787.5 771.5,787.5" stroke="#000080" stroke-width="1" fill="none"/>
<path d="M581.8,787.5 A3.18,3.18 0 0 1 588.17,787.5 A3.18,3.18 0 0 1 594.53,787.5 A3.18,3.18 0 0 1 600.9,787.5" stroke="#0000FF" stroke-width="1.05" fill="none" shape-rendering="geometricPrecision"/>
<text x="574.6" y="785.5" font-size="8" fill="#000000" stroke="#000000" stroke-width="0.25" text-anchor="middle" font-family='"Liberation Serif", serif' xml:space="preserve">1</text>
<text x="608.5" y="785.5" font-size="8" fill="#000000" stroke="#000000" stroke-width="0.25" text-anchor="middle" font-family='"Liberation Serif", serif' xml:space="preserve">2</text>
<text x="587.3" y="794.7" font-size="8" fill="#000080" stroke="#000080" stroke-width="0.25" text-anchor="start" font-family='"Liberation Serif", serif' xml:space="preserve">L5</text>
<text x="569.7" y="777.5" font-size="8" fill="#000080" stroke="#000080" stroke-width="0.25" text-anchor="start" font-family='"Liberation Serif", serif' xml:space="preserve">DO3316P-153</text>
<text x="570" y="802.6" font-size="8" fill="#000080" stroke="#000080" stroke-width="0.25" text-anchor="start" font-family='"Liberation Serif", serif' xml:space="preserve">15uH  3A  2946</text>
<circle cx="565.5" cy="787.7" r="2.2" fill="#000080" shape-rendering="geometricPrecision"/>
<circle cx="638.5" cy="787.7" r="2.2" fill="#000080" shape-rendering="geometricPrecision"/>
<circle cx="677.5" cy="787.7" r="2.2" fill="#000080" shape-rendering="geometricPrecision"/>
<circle cx="733.5" cy="787.7" r="2.2" fill="#000080" shape-rendering="geometricPrecision"/>
<polyline points="522.5,805.5 625.5,805.5 625.5,856.5" stroke="#000080" stroke-width="1" fill="none"/>
<polyline points="625.5,847.5 638.5,847.5" stroke="#000080" stroke-width="1" fill="none"/>
<circle cx="625.5" cy="847.7" r="2.2" fill="#000080" shape-rendering="geometricPrecision"/>
<circle cx="638.5" cy="847.7" r="2.2" fill="#000080" shape-rendering="geometricPrecision"/>
<circle cx="638.5" cy="882.7" r="2.2" fill="#000080" shape-rendering="geometricPrecision"/>
<polyline points="638.5,787.5 638.5,800.5" stroke="#000080" stroke-width="1" fill="none"/>
<polyline points="638.5,817.5 638.5,856.5" stroke="#000080" stroke-width="1" fill="none"/>
<rect x="635.5" y="800.5" width="6" height="17" stroke="#0000FF" fill="none"/>
<rect x="622.5" y="856.5" width="5" height="17" stroke="#0000FF" fill="none"/>
<rect x="635.5" y="856.5" width="6" height="17" stroke="#0000FF" fill="none"/>
<polyline points="638.5,873.5 638.5,882.5 625.5,882.5 625.5,873.5" stroke="#000080" stroke-width="1" fill="none"/>
<text x="641.7" y="807.7" font-size="8" fill="#000080" stroke="#000080" stroke-width="0.25" text-anchor="start" font-family='"Liberation Serif", serif' xml:space="preserve">R31</text>
<text transform="translate(632.54,827) rotate(-90)" font-size="8" fill="#000080" stroke="#000080" stroke-width="0.1" font-family='"Liberation Serif", serif' xml:space="preserve">3K6 2062</text>
<text x="609" y="863.3" font-size="8" fill="#000080" stroke="#000080" stroke-width="0.25" text-anchor="start" font-family='"Liberation Serif", serif' xml:space="preserve">R33</text>
<text x="593.6" y="870.9" font-size="8" fill="#000080" stroke="#000080" stroke-width="0.25" text-anchor="start" font-family='"Liberation Serif", serif' xml:space="preserve">56K  845</text>
<text x="641.7" y="863.3" font-size="8" fill="#000080" stroke="#000080" stroke-width="0.25" text-anchor="start" font-family='"Liberation Serif", serif' xml:space="preserve">R32</text>
<text x="641.7" y="870.9" font-size="8" fill="#000080" stroke="#000080" stroke-width="0.25" text-anchor="start" font-family='"Liberation Serif", serif' xml:space="preserve">1K2  2063</text>
<polyline points="565.5,787.5 565.5,826.5" stroke="#000080" stroke-width="1" fill="none"/>
<polyline points="565.5,835.5 565.5,865.5" stroke="#000080" stroke-width="1" fill="none"/>
<polygon points="556,835.5 575,835.5 565.5,826.5" fill="#0000FF" shape-rendering="geometricPrecision"/>
<path d="M559.5,824.5 H556.5 V826.5 H574.5 V828.5 H571.5" stroke="#0000FF" fill="none" stroke-width="1"/>
<line x1="557" y1="865.5" x2="574" y2="865.5" stroke="#800000" stroke-width="1.1"/>
<line x1="559.38" y1="868.2" x2="571.62" y2="868.2" stroke="#800000" stroke-width="1.1"/>
<line x1="561.67" y1="870.9" x2="569.33" y2="870.9" stroke="#800000" stroke-width="1.1"/>
<line x1="563.8" y1="873.6" x2="567.2" y2="873.6" stroke="#800000" stroke-width="1.1"/>
<line x1="565.5" y1="859.5" x2="565.5" y2="865.5" stroke="#800000"/>
<text x="565.5" y="881" font-size="8" fill="#800000" stroke="#800000" stroke-width="0.25" text-anchor="middle" font-family='"Liberation Serif", serif' xml:space="preserve">GND</text>
<text x="574.8" y="828" font-size="8" fill="#000080" stroke="#000080" stroke-width="0.25" text-anchor="start" font-family='"Liberation Serif", serif' xml:space="preserve">D7</text>
<text x="574.8" y="837.3" font-size="8" fill="#000080" stroke="#000080" stroke-width="0.25" text-anchor="start" font-family='"Liberation Serif", serif' xml:space="preserve">STPS340U</text>
<text x="574.8" y="846.3" font-size="8" fill="#000080" stroke="#000080" stroke-width="0.25" text-anchor="start" font-family='"Liberation Serif", serif' xml:space="preserve">2947</text>
<polyline points="677.5,787.5 677.5,831.5" stroke="#000080" stroke-width="1" fill="none"/>
<polyline points="677.5,838.5 677.5,891.5" stroke="#000080" stroke-width="1" fill="none"/>
<rect x="668.2" y="830.5" width="18.6" height="3" stroke="#0000FF" fill="none"/>
<path d="M668.2,841.4 A10.21,10.21 0 0 1 686.8,841.4 L686.8,843.4 A10.21,10.21 0 0 0 668.2,843.4 Z" stroke="#0000FF" stroke-width="1" fill="#D8D8FF" shape-rendering="geometricPrecision"/>
<path d="M666.5,825.2 h6 M669.5,822.2 v6" stroke="#0000FF" stroke-width="1.2" shape-rendering="geometricPrecision"/>
<line x1="669" y1="891.5" x2="686" y2="891.5" stroke="#800000" stroke-width="1.1"/>
<line x1="671.38" y1="894.2" x2="683.62" y2="894.2" stroke="#800000" stroke-width="1.1"/>
<line x1="673.67" y1="896.9" x2="681.33" y2="896.9" stroke="#800000" stroke-width="1.1"/>
<line x1="675.8" y1="899.6" x2="679.2" y2="899.6" stroke="#800000" stroke-width="1.1"/>
<line x1="677.5" y1="885.5" x2="677.5" y2="891.5" stroke="#800000"/>
<text x="677.5" y="906.8" font-size="8" fill="#800000" stroke="#800000" stroke-width="0.25" text-anchor="middle" font-family='"Liberation Serif", serif' xml:space="preserve">GND</text>
<text x="661.3" y="823.4" font-size="8" fill="#000080" stroke="#000080" stroke-width="0.25" text-anchor="start" font-family='"Liberation Serif", serif' xml:space="preserve">C28</text>
<text transform="translate(692.94,873.3) rotate(-90)" font-size="8" fill="#000080" stroke="#000080" stroke-width="0.1" font-family='"Liberation Serif", serif' xml:space="preserve">1000uF 25V   2945</text>
<text transform="translate(701.64,886.9) rotate(-90)" font-size="8" fill="#000080" stroke="#000080" stroke-width="0.1" font-family='"Liberation Serif", serif' xml:space="preserve">EKZE250ELL102MK20S</text>
<path d="M693.5,787.5 A3.18,3.18 0 0 1 699.87,787.5 A3.18,3.18 0 0 1 706.23,787.5 A3.18,3.18 0 0 1 712.6,787.5" stroke="#0000FF" stroke-width="1.05" fill="none" shape-rendering="geometricPrecision"/>
<text x="682.3" y="777.5" font-size="8" fill="#000080" stroke="#000080" stroke-width="0.25" text-anchor="start" font-family='"Liberation Serif", serif' xml:space="preserve">1uH L200 1924</text>
<text x="693.9" y="796.7" font-size="8" fill="#000080" stroke="#000080" stroke-width="0.25" text-anchor="start" font-family='"Liberation Serif", serif' xml:space="preserve">L6</text>
<polyline points="733.5,787.5 733.5,831.5" stroke="#000080" stroke-width="1" fill="none"/>
<polyline points="733.5,838.5 733.5,895.5" stroke="#000080" stroke-width="1" fill="none"/>
<rect x="724.7" y="830.5" width="17.6" height="3" stroke="#0000FF" fill="none"/>
<path d="M724.7,841.4 A9.45,9.45 0 0 1 742.3,841.4 L742.3,843.4 A9.45,9.45 0 0 0 724.7,843.4 Z" stroke="#0000FF" stroke-width="1" fill="#D8D8FF" shape-rendering="geometricPrecision"/>
<path d="M723,825.2 h6 M726,822.2 v6" stroke="#0000FF" stroke-width="1.2" shape-rendering="geometricPrecision"/>
<line x1="725" y1="895.5" x2="742" y2="895.5" stroke="#800000" stroke-width="1.1"/>
<line x1="727.38" y1="898.2" x2="739.62" y2="898.2" stroke="#800000" stroke-width="1.1"/>
<line x1="729.67" y1="900.9" x2="737.33" y2="900.9" stroke="#800000" stroke-width="1.1"/>
<line x1="731.8" y1="903.6" x2="735.2" y2="903.6" stroke="#800000" stroke-width="1.1"/>
<line x1="733.5" y1="889.5" x2="733.5" y2="895.5" stroke="#800000"/>
<text x="733.5" y="910.4" font-size="8" fill="#800000" stroke="#800000" stroke-width="0.25" text-anchor="middle" font-family='"Liberation Serif", serif' xml:space="preserve">GND</text>
<text x="716.2" y="820.7" font-size="8" fill="#000080" stroke="#000080" stroke-width="0.25" text-anchor="start" font-family='"Liberation Serif", serif' xml:space="preserve">C29</text>
<text transform="translate(749.14,869.1) rotate(-90)" font-size="8" fill="#000080" stroke="#000080" stroke-width="0.1" font-family='"Liberation Serif", serif' xml:space="preserve">1000uF 16V  634</text>
<path d="M771.1,787.5 A3.33,3.33 0 0 1 777.77,787.5 A3.33,3.33 0 0 1 784.43,787.5 A3.33,3.33 0 0 1 791.1,787.5" stroke="#0000FF" stroke-width="1.05" fill="none" shape-rendering="geometricPrecision"/>
<line x1="771.1" y1="780.5" x2="791.1" y2="780.5" stroke="#000000" stroke-width="1"/>
<line x1="771.1" y1="782.5" x2="791.1" y2="782.5" stroke="#000000" stroke-width="1"/>
<polyline points="791.5,787.5 828.5,787.5" stroke="#000080" stroke-width="1" fill="none"/>
<text x="724.9" y="769" font-size="8" fill="#000080" stroke="#000080" stroke-width="0.25" text-anchor="start" font-family='"Liberation Serif", serif' xml:space="preserve">BLM41PG600SN1 2949</text>
<text x="771.1" y="777.5" font-size="8" fill="#000080" stroke="#000080" stroke-width="0.25" text-anchor="start" font-family='"Liberation Serif", serif' xml:space="preserve">F3</text>
<line x1="805" y1="762.5" x2="816" y2="762.5" stroke="#800000" stroke-width="1.1"/>
<line x1="810.5" y1="762.5" x2="810.5" y2="769.5" stroke="#800000"/>
<text x="810.5" y="759.5" font-size="8" fill="#800000" stroke="#800000" stroke-width="0.25" text-anchor="middle" font-family='"Liberation Serif", serif' xml:space="preserve">+5V</text>
<polyline points="810.5,770.5 810.5,815.5" stroke="#000080" stroke-width="1" fill="none"/>
<polyline points="810.5,819.5 810.5,895.5" stroke="#000080" stroke-width="1" fill="none"/>
<line x1="801.5" y1="815.5" x2="819.5" y2="815.5" stroke="#0000FF" stroke-width="1.2"/>
<line x1="801.5" y1="819.5" x2="819.5" y2="819.5" stroke="#0000FF" stroke-width="1.2"/>
<line x1="810.5" y1="809.5" x2="810.5" y2="815.5" stroke="#0000FF"/>
<line x1="810.5" y1="819.5" x2="810.5" y2="825.5" stroke="#0000FF"/>
<circle cx="810.5" cy="787.7" r="2.2" fill="#000080" shape-rendering="geometricPrecision"/>
<circle cx="810.5" cy="886.7" r="2.2" fill="#000080" shape-rendering="geometricPrecision"/>
<rect x="828.5" y="783.5" width="8" height="8" fill="#FFFF80" stroke="#800000" stroke-width="1"/>
<text x="820.1" y="786" font-size="8" fill="#000000" stroke="#000000" stroke-width="0.25" text-anchor="middle" font-family='"Liberation Serif", serif' xml:space="preserve">1</text>
<text x="828.6" y="798.5" font-size="8" fill="#000080" stroke="#000080" stroke-width="0.25" text-anchor="start" font-family='"Liberation Serif", serif' xml:space="preserve">+5V</text>
<text x="815" y="807.6" font-size="8" fill="#000080" stroke="#000080" stroke-width="0.25" text-anchor="start" font-family='"Liberation Serif", serif' xml:space="preserve">C30</text>
<text transform="translate(805.34,860.6) rotate(-90)" font-size="8" fill="#000080" stroke="#000080" stroke-width="0.1" font-family='"Liberation Serif", serif' xml:space="preserve">100nF 588</text>
<polyline points="810.5,886.5 828.5,886.5" stroke="#000080" stroke-width="1" fill="none"/>
<rect x="828.5" y="882.5" width="8" height="9" fill="#FFFF80" stroke="#800000" stroke-width="1"/>
<text x="820.1" y="885" font-size="8" fill="#000000" stroke="#000000" stroke-width="0.25" text-anchor="middle" font-family='"Liberation Serif", serif' xml:space="preserve">1</text>
<text x="828.2" y="897.7" font-size="8" fill="#000080" stroke="#000080" stroke-width="0.25" text-anchor="start" font-family='"Liberation Serif", serif' xml:space="preserve">GND</text>
<line x1="802" y1="895.5" x2="819" y2="895.5" stroke="#800000" stroke-width="1.1"/>
<line x1="804.38" y1="898.2" x2="816.62" y2="898.2" stroke="#800000" stroke-width="1.1"/>
<line x1="806.67" y1="900.9" x2="814.33" y2="900.9" stroke="#800000" stroke-width="1.1"/>
<line x1="808.8" y1="903.6" x2="812.2" y2="903.6" stroke="#800000" stroke-width="1.1"/>
<line x1="810.5" y1="889.5" x2="810.5" y2="895.5" stroke="#800000"/>
<text x="810.5" y="910.4" font-size="8" fill="#800000" stroke="#800000" stroke-width="0.25" text-anchor="middle" font-family='"Liberation Serif", serif' xml:space="preserve">GND</text>
<line x1="895" y1="787.5" x2="906" y2="787.5" stroke="#800000" stroke-width="1.1"/>
<line x1="900.5" y1="787.5" x2="900.5" y2="794.5" stroke="#800000"/>
<text x="900.5" y="784.5" font-size="8" fill="#800000" stroke="#800000" stroke-width="0.25" text-anchor="middle" font-family='"Liberation Serif", serif' xml:space="preserve">+5V</text>
<polyline points="900.5,787.5 900.5,796.5 943.5,796.5" stroke="#000080" stroke-width="1" fill="none"/>
<polyline points="960.5,796.5 1024.5,796.5" stroke="#000080" stroke-width="1" fill="none"/>
<rect x="943.5" y="792.5" width="17" height="8" fill="#FFFFB0" stroke="#800000" stroke-width="1.2"/>
<text x="947.5" y="777.9" font-size="8" fill="#000080" stroke="#000080" stroke-width="0.25" text-anchor="start" font-family='"Liberation Serif", serif' xml:space="preserve">U4</text>
<text x="908.7" y="785.9" font-size="8" fill="#000080" stroke="#000080" stroke-width="0.25" text-anchor="start" font-family='"Liberation Serif", serif' xml:space="preserve">MCP1826-3302EDB  2828</text>
<text x="934.9" y="795" font-size="8" fill="#000000" stroke="#000000" stroke-width="0.25" text-anchor="middle" font-family='"Liberation Serif", serif' xml:space="preserve">1</text>
<text x="968.6" y="795" font-size="8" fill="#000000" stroke="#000000" stroke-width="0.25" text-anchor="middle" font-family='"Liberation Serif", serif' xml:space="preserve">3</text>
<text transform="translate(950,808.5) rotate(-90)" font-size="8" fill="#000" text-anchor="middle" font-family='"Liberation Serif", serif'>2</text>
<circle cx="925.5" cy="796.7" r="2.2" fill="#000080" shape-rendering="geometricPrecision"/>
<circle cx="973.5" cy="796.7" r="2.2" fill="#000080" shape-rendering="geometricPrecision"/>
<circle cx="999.5" cy="796.7" r="2.2" fill="#000080" shape-rendering="geometricPrecision"/>
<circle cx="1024.5" cy="796.7" r="2.2" fill="#000080" shape-rendering="geometricPrecision"/>
<rect x="994.5" y="770.5" width="9" height="9" fill="#FFFF80" stroke="#800000" stroke-width="1"/>
<text x="982.1" y="764.8" font-size="8" fill="#000080" stroke="#000080" stroke-width="0.25" text-anchor="start" font-family='"Liberation Serif", serif' xml:space="preserve">+3V3 CPU</text>
<polyline points="999.5,779.5 999.5,819.5" stroke="#000080" stroke-width="1" fill="none"/>
<polyline points="999.5,822.5 999.5,861.5" stroke="#000080" stroke-width="1" fill="none"/>
<line x1="1019" y1="787.5" x2="1030" y2="787.5" stroke="#800000" stroke-width="1.1"/>
<line x1="1024.5" y1="787.5" x2="1024.5" y2="794.5" stroke="#800000"/>
<text x="1024.5" y="784.5" font-size="8" fill="#800000" stroke="#800000" stroke-width="0.25" text-anchor="middle" font-family='"Liberation Serif", serif' xml:space="preserve">+3V3</text>
<polyline points="1024.5,787.5 1024.5,822.5" stroke="#000080" stroke-width="1" fill="none"/>
<polyline points="1024.5,839.5 1024.5,861.5" stroke="#000080" stroke-width="1" fill="none"/>
<polyline points="925.5,796.5 925.5,820.5" stroke="#000080" stroke-width="1" fill="none"/>
<polyline points="925.5,824.5 925.5,861.5" stroke="#000080" stroke-width="1" fill="none"/>
<polyline points="951.5,800.5 951.5,861.5" stroke="#000080" stroke-width="1" fill="none"/>
<polyline points="973.5,796.5 973.5,820.5" stroke="#000080" stroke-width="1" fill="none"/>
<polyline points="973.5,824.5 973.5,861.5" stroke="#000080" stroke-width="1" fill="none"/>
<line x1="916.5" y1="820.5" x2="934.5" y2="820.5" stroke="#0000FF" stroke-width="1.2"/>
<line x1="916.5" y1="824.5" x2="934.5" y2="824.5" stroke="#0000FF" stroke-width="1.2"/>
<line x1="925.5" y1="814.5" x2="925.5" y2="820.5" stroke="#0000FF"/>
<line x1="925.5" y1="824.5" x2="925.5" y2="830.5" stroke="#0000FF"/>
<line x1="964.5" y1="820.5" x2="982.5" y2="820.5" stroke="#0000FF" stroke-width="1.2"/>
<line x1="964.5" y1="824.5" x2="982.5" y2="824.5" stroke="#0000FF" stroke-width="1.2"/>
<line x1="973.5" y1="814.5" x2="973.5" y2="820.5" stroke="#0000FF"/>
<line x1="973.5" y1="824.5" x2="973.5" y2="830.5" stroke="#0000FF"/>
<line x1="990.5" y1="819.5" x2="1008.5" y2="819.5" stroke="#0000FF" stroke-width="1.2"/>
<line x1="990.5" y1="822.5" x2="1008.5" y2="822.5" stroke="#0000FF" stroke-width="1.2"/>
<line x1="999.5" y1="813.5" x2="999.5" y2="819.5" stroke="#0000FF"/>
<line x1="999.5" y1="822.5" x2="999.5" y2="828.5" stroke="#0000FF"/>
<rect x="1021.5" y="822.5" width="5" height="17" stroke="#0000FF" fill="none"/>
<line x1="917" y1="861.5" x2="934" y2="861.5" stroke="#800000" stroke-width="1.1"/>
<line x1="919.38" y1="864.2" x2="931.62" y2="864.2" stroke="#800000" stroke-width="1.1"/>
<line x1="921.67" y1="866.9" x2="929.33" y2="866.9" stroke="#800000" stroke-width="1.1"/>
<line x1="923.8" y1="869.6" x2="927.2" y2="869.6" stroke="#800000" stroke-width="1.1"/>
<line x1="925.5" y1="855.5" x2="925.5" y2="861.5" stroke="#800000"/>
<text x="925.5" y="876" font-size="8" fill="#800000" stroke="#800000" stroke-width="0.25" text-anchor="middle" font-family='"Liberation Serif", serif' xml:space="preserve">GND</text>
<line x1="943" y1="861.5" x2="960" y2="861.5" stroke="#800000" stroke-width="1.1"/>
<line x1="945.38" y1="864.2" x2="957.62" y2="864.2" stroke="#800000" stroke-width="1.1"/>
<line x1="947.67" y1="866.9" x2="955.33" y2="866.9" stroke="#800000" stroke-width="1.1"/>
<line x1="949.8" y1="869.6" x2="953.2" y2="869.6" stroke="#800000" stroke-width="1.1"/>
<line x1="951.5" y1="855.5" x2="951.5" y2="861.5" stroke="#800000"/>
<text x="951.5" y="876" font-size="8" fill="#800000" stroke="#800000" stroke-width="0.25" text-anchor="middle" font-family='"Liberation Serif", serif' xml:space="preserve">GND</text>
<line x1="965" y1="861.5" x2="982" y2="861.5" stroke="#800000" stroke-width="1.1"/>
<line x1="967.38" y1="864.2" x2="979.62" y2="864.2" stroke="#800000" stroke-width="1.1"/>
<line x1="969.67" y1="866.9" x2="977.33" y2="866.9" stroke="#800000" stroke-width="1.1"/>
<line x1="971.8" y1="869.6" x2="975.2" y2="869.6" stroke="#800000" stroke-width="1.1"/>
<line x1="973.5" y1="855.5" x2="973.5" y2="861.5" stroke="#800000"/>
<text x="973.5" y="876" font-size="8" fill="#800000" stroke="#800000" stroke-width="0.25" text-anchor="middle" font-family='"Liberation Serif", serif' xml:space="preserve">GND</text>
<line x1="991" y1="861.5" x2="1008" y2="861.5" stroke="#800000" stroke-width="1.1"/>
<line x1="993.38" y1="864.2" x2="1005.62" y2="864.2" stroke="#800000" stroke-width="1.1"/>
<line x1="995.67" y1="866.9" x2="1003.33" y2="866.9" stroke="#800000" stroke-width="1.1"/>
<line x1="997.8" y1="869.6" x2="1001.2" y2="869.6" stroke="#800000" stroke-width="1.1"/>
<line x1="999.5" y1="855.5" x2="999.5" y2="861.5" stroke="#800000"/>
<text x="999.5" y="876" font-size="8" fill="#800000" stroke="#800000" stroke-width="0.25" text-anchor="middle" font-family='"Liberation Serif", serif' xml:space="preserve">GND</text>
<line x1="1016" y1="861.5" x2="1033" y2="861.5" stroke="#800000" stroke-width="1.1"/>
<line x1="1018.38" y1="864.2" x2="1030.62" y2="864.2" stroke="#800000" stroke-width="1.1"/>
<line x1="1020.67" y1="866.9" x2="1028.33" y2="866.9" stroke="#800000" stroke-width="1.1"/>
<line x1="1022.8" y1="869.6" x2="1026.2" y2="869.6" stroke="#800000" stroke-width="1.1"/>
<line x1="1024.5" y1="855.5" x2="1024.5" y2="861.5" stroke="#800000"/>
<text x="1024.5" y="876" font-size="8" fill="#800000" stroke="#800000" stroke-width="0.25" text-anchor="middle" font-family='"Liberation Serif", serif' xml:space="preserve">GND</text>
<text transform="translate(920.64,817.8) rotate(-90)" font-size="8" fill="#000080" stroke="#000080" stroke-width="0.1" font-family='"Liberation Serif", serif' xml:space="preserve">C31</text>
<text transform="translate(941.74,856.6) rotate(-90)" font-size="8" fill="#000080" stroke="#000080" stroke-width="0.1" font-family='"Liberation Serif", serif' xml:space="preserve">10uF 25V  3315</text>
<text transform="translate(898.64,886.2) rotate(-90)" font-size="8" fill="#000080" stroke="#000080" stroke-width="0.1" font-family='"Liberation Serif", serif' xml:space="preserve">GRM32DR61E106KA12L</text>
<text transform="translate(907.14,886.2) rotate(-90)" font-size="8" fill="#000080" stroke="#000080" stroke-width="0.1" font-family='"Liberation Serif", serif' xml:space="preserve">GRM32DR61E106KA12L</text>
<text x="976.2" y="818" font-size="8" fill="#000080" stroke="#000080" stroke-width="0.25" text-anchor="start" font-family='"Liberation Serif", serif' xml:space="preserve">C32</text>
<text transform="translate(963.34,851.6) rotate(-90)" font-size="8" fill="#000080" stroke="#000080" stroke-width="0.1" font-family='"Liberation Serif", serif' xml:space="preserve">10uF25V  3315</text>
<text x="983.8" y="832.7" font-size="8" fill="#000080" stroke="#000080" stroke-width="0.25" text-anchor="start" font-family='"Liberation Serif", serif' xml:space="preserve">C33</text>
<text transform="translate(1015.14,838) rotate(-90)" font-size="8" fill="#000080" stroke="#000080" stroke-width="0.1" font-family='"Liberation Serif", serif' xml:space="preserve">100nF 588</text>
<text transform="translate(1024.44,817.8) rotate(-90)" font-size="8" fill="#000080" stroke="#000080" stroke-width="0.1" font-family='"Liberation Serif", serif' xml:space="preserve">R4</text>
<text transform="translate(1036.24,843.5) rotate(-90)" font-size="8" fill="#000080" stroke="#000080" stroke-width="0.1" font-family='"Liberation Serif", serif' xml:space="preserve">220R  968</text>
</svg>
</body></html>
